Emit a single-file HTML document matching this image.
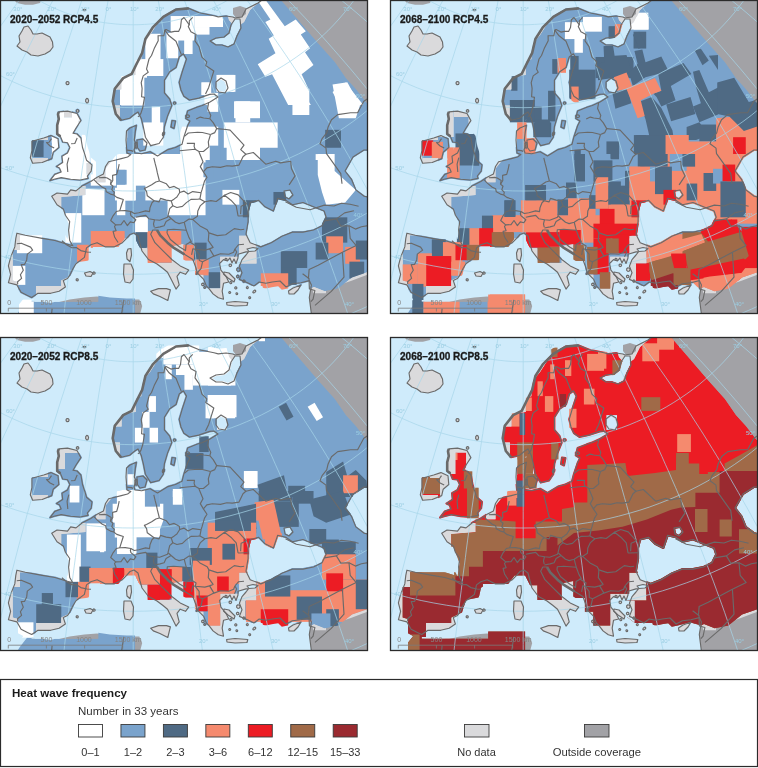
<!DOCTYPE html>
<html><head><meta charset="utf-8"><title>Heat wave frequency</title>
<style>html,body{margin:0;padding:0;background:#fff;} svg{display:block}</style></head>
<body>
<svg width="758" height="768" viewBox="0 0 758 768">
<defs>
<clipPath id="clip"><rect x="0" y="0" width="368" height="314"/></clipPath>
<clipPath id="cov"><path d="M61.2,197.1 L61.2,209.8 L63.3,209.8 L69.7,226.6 L67.5,239.3 L65.4,235.3 L64.1,235.3 L64.4,238.2 L56.4,235.7 L55.7,235.6 L54.1,235.3 L20.0,235.3 L20.0,250.0 L12.7,250.0 L12.7,280.6 L18.0,282.0 L18.0,296.2 L18.0,296.3 L18.5,296.5 L18.9,296.8 L23.3,298.9 L18.0,305.7 L18.0,314.5 L135.1,314.5 L135.1,294.6 L126.7,294.6 L123.4,294.4 L98.2,294.4 L98.2,301.8 L31.7,301.8 L31.7,300.0 L36.0,300.0 L36.0,286.0 L61.2,286.0 L61.2,280.6 L72.0,275.4 L76.0,263.0 L88.4,260.4 L88.5,260.3 L88.7,259.9 L89.0,259.4 L89.1,259.0 L89.3,258.5 L91.0,250.8 L92.9,249.4 L92.9,246.9 L118.2,246.9 L124.5,238.4 L135.1,238.4 L140.0,248.3 L147.4,248.3 L147.4,263.1 L171.7,263.1 L171.7,246.2 L183.3,244.1 L183.3,259.5 L185.8,261.0 L194.9,261.0 L194.9,274.7 L203.3,274.7 L203.3,288.4 L220.2,288.4 L220.2,256.8 L239.2,256.8 L239.2,235.7 L247.9,235.7 L247.0,234.0 L249.1,221.7 L249.1,221.6 L249.1,221.5 L249.1,211.1 L251.0,203.3 L258.4,201.5 L264.3,207.5 L264.4,207.6 L264.5,207.6 L264.6,207.7 L273.0,211.9 L273.0,211.9 L273.1,212.0 L273.2,212.0 L273.3,212.0 L273.4,212.0 L273.5,212.0 L273.6,212.0 L273.7,211.9 L273.8,211.9 L273.9,211.9 L274.0,211.8 L274.1,211.7 L274.1,211.7 L274.2,211.6 L274.3,211.5 L274.3,211.4 L274.3,211.3 L278.4,199.5 L285.7,201.3 L291.8,205.5 L291.9,205.6 L292.0,205.6 L292.1,205.7 L292.2,205.7 L292.3,205.7 L292.4,205.7 L292.5,205.7 L292.6,205.7 L302.9,203.5 L313.1,207.7 L313.1,207.7 L323.3,211.8 L325.1,217.2 L321.3,225.1 L313.2,229.0 L302.9,231.1 L292.4,231.1 L292.3,231.1 L292.2,231.1 L292.1,231.1 L292.0,231.2 L281.5,235.4 L281.5,235.4 L281.4,235.4 L270.9,241.8 L260.8,245.8 L256.2,244.0 L256.5,263.5 L237.0,263.5 L237.0,280.0 L245.0,286.0 L262.4,286.0 L262.9,287.8 L264.8,288.2 L265.3,288.3 L265.8,288.3 L266.3,288.3 L266.8,288.2 L273.1,286.9 L278.2,286.3 L281.8,289.8 L287.8,288.4 L300.0,285.3 L305.6,286.9 L305.7,286.7 L306.0,286.6 L306.0,287.0 L311.0,288.5 L314.0,287.0 L324.7,291.2 L338.4,288.5 L352.0,277.5 L368.0,272.0 L368.0,196.2 L364.6,195.3 L356.6,189.3 L352.4,178.9 L352.4,178.8 L352.3,178.8 L352.3,178.7 L346.2,170.9 L353.7,157.7 L364.3,151.0 L368.0,151.0 L368.0,104.0 L366.0,102.0 L356.0,89.0 L346.0,78.0 L335.0,62.0 L318.0,43.0 L300.0,22.0 L281.0,0.0 L262.0,0.0 L258.0,3.0 L250.0,10.0 L244.0,22.0 L239.7,25.2 L240.0,27.8 L236.1,35.6 L236.1,35.6 L233.2,43.3 L227.9,45.9 L222.3,44.1 L222.2,44.0 L222.1,44.0 L222.0,44.0 L216.3,44.0 L212.0,41.1 L216.3,39.0 L224.1,38.0 L224.2,38.0 L224.3,38.0 L224.4,37.9 L224.5,37.9 L224.6,37.8 L224.6,37.8 L229.6,33.8 L229.7,33.7 L229.8,33.7 L229.8,33.6 L229.9,33.5 L229.9,33.4 L229.9,33.3 L230.0,33.2 L231.9,25.4 L232.7,24.2 L229.0,20.0 L226.6,11.0 L226.3,11.0 L225.9,11.0 L225.4,11.0 L218.6,11.8 L215.3,11.0 L215.0,10.9 L200.7,7.9 L191.7,4.2 L190.0,4.0 L170.5,6.9 L160.8,12.6 L160.4,12.8 L160.1,13.1 L159.8,13.4 L156.3,16.8 L156.3,25.3 L150.0,35.0 L141.8,44.7 L141.3,59.3 L135.7,60.5 L135.7,75.0 L121.6,76.2 L121.6,89.6 L112.7,89.6 L112.7,105.4 L119.9,105.4 L119.9,122.4 L127.2,122.4 L127.2,136.9 L126.0,146.6 L121.8,150.2 L122.0,153.3 L116.5,154.7 L105.5,168.6 L105.5,182.3 L96.0,182.3 L96.0,161.9 L95.9,161.8 L95.6,161.4 L95.2,161.1 L90.9,157.4 L89.7,153.2 L89.6,153.0 L87.4,146.3 L85.8,137.2 L85.7,136.7 L85.6,136.2 L85.4,135.7 L85.1,135.3 L84.8,134.9 L84.5,134.5 L80.6,130.5 L80.4,130.4 L80.4,130.3 L85.1,123.4 L85.3,122.9 L85.5,122.5 L85.7,122.0 L85.8,121.5 L85.9,121.1 L85.9,120.6 L85.9,120.1 L85.8,119.6 L85.7,119.1 L85.5,118.6 L85.3,118.2 L83.0,114.0 L83.4,113.1 L83.6,112.7 L83.7,112.2 L83.8,111.7 L83.9,111.2 L83.9,110.6 L83.8,110.1 L83.7,109.6 L83.6,109.1 L83.4,108.7 L82.9,107.7 L82.6,107.3 L82.4,106.9 L82.1,106.5 L81.7,106.2 L81.4,105.9 L81.0,105.6 L80.6,105.4 L80.2,105.2 L79.7,105.1 L79.4,105.0 L75.4,105.0 L75.1,105.1 L74.7,105.4 L74.2,105.7 L73.3,106.4 L72.9,106.7 L72.6,107.0 L72.5,107.2 L68.7,106.3 L68.2,106.1 L67.6,106.1 L67.0,106.1 L58.3,106.9 L57.9,107.0 L57.4,107.1 L57.0,107.3 L56.5,107.4 L56.1,107.7 L55.7,108.0 L55.4,108.3 L55.0,108.6 L54.7,109.0 L54.5,109.4 L54.3,109.8 L54.1,110.3 L53.3,112.6 L53.1,113.0 L53.0,113.5 L53.0,114.0 L53.0,114.5 L53.1,115.0 L53.7,118.8 L52.4,124.1 L52.3,124.5 L52.2,124.9 L52.2,125.3 L52.2,130.8 L52.1,130.7 L51.6,130.7 L51.2,130.6 L50.7,130.6 L50.2,130.6 L49.8,130.7 L49.3,130.9 L48.0,131.3 L48.0,140.1 L31.7,140.1 L31.7,158.0 L48.0,158.0 L48.0,165.5 L52.2,163.8 L52.1,164.0 L51.9,164.4 L51.7,164.9 L51.5,165.3 L51.4,165.8 L51.4,166.3 L51.4,166.8 L51.5,167.2 L51.5,167.7 L51.7,168.2 L51.9,168.6 L52.1,169.0 L52.4,169.4 L52.7,169.8 L52.7,169.9 L52.6,169.9 L52.2,170.1 L51.8,170.4 L51.5,170.7 L51.1,171.0 L50.8,171.4 L48.0,175.1 L48.0,185.3 L48.4,185.4 L48.8,185.6 L49.3,185.7 L49.8,185.7 L50.3,185.7 L50.8,185.6 L51.3,185.5 L51.8,185.4 L55.4,184.0 L61.3,182.7 L69.9,184.1 L70.3,184.2 L75.7,184.6 L74.6,185.6 L71.6,185.0 L71.1,184.9 L70.6,184.9 L70.1,184.9 L69.6,185.0 L69.1,185.1 L68.7,185.3 L68.2,185.6 L67.8,185.8 L67.6,186.0 L85.5,186.0 L85.5,195.0Z M136.5,120.0 L136.6,120.3 L136.3,120.3 L135.9,120.3 L135.4,120.4 L134.9,120.5 L134.5,120.7 L136.2,119.3Z M160.6,148.3 L157.4,150.2 L156.1,149.4 L160.3,148.4Z M163.3,146.3 L167.5,140.0 L167.7,139.6 L167.9,139.1 L168.1,138.7 L168.2,138.2 L168.3,137.7 L168.3,137.2 L168.6,136.8 L168.9,136.4 L169.1,135.9 L169.2,135.4 L169.3,134.9 L169.4,134.4 L169.5,132.8 L169.5,132.3 L169.5,131.8 L171.8,133.0 L172.2,133.2 L172.7,133.3 L173.1,133.4 L173.6,133.5 L174.1,133.5 L174.6,133.5 L175.1,133.4 L175.5,133.3 L176.0,133.1 L176.4,132.9 L176.8,132.6 L177.2,132.3 L177.6,132.0 L177.9,131.6 L178.2,131.3 L178.4,130.8 L178.6,130.4 L178.8,129.9 L178.9,129.5 L180.4,122.0 L180.5,121.5 L180.5,121.0 L180.5,120.6 L180.4,120.1 L180.3,119.6 L180.1,119.2 L180.0,118.7 L179.7,118.3 L179.4,117.9 L179.1,117.6 L178.8,117.2 L178.4,116.9 L178.0,116.7 L177.6,116.5 L177.1,116.3 L176.7,116.1 L176.2,116.1 L173.1,115.6 L175.7,109.1 L176.7,108.8 L177.2,108.6 L177.6,108.4 L178.0,108.2 L178.4,107.9 L178.8,107.6 L179.1,107.2 L179.4,106.8 L179.7,106.4 L180.2,105.5 L180.4,105.1 L180.6,104.6 L180.7,104.1 L180.8,103.6 L180.8,103.1 L180.8,102.6 L180.7,102.1 L180.6,101.6 L180.4,101.1 L180.2,100.7 L179.7,99.8 L179.4,99.4 L179.1,99.0 L178.8,98.6 L178.4,98.3 L178.0,98.0 L177.6,97.8 L177.2,97.6 L176.7,97.4 L175.7,97.1 L175.2,97.0 L174.7,96.9 L174.2,96.9 L174.1,96.9 L174.1,96.8 L173.8,96.4 L173.5,96.0 L169.4,91.1 L169.4,81.6 L173.4,75.3 L176.7,73.1 L174.4,80.9 L174.3,81.4 L174.2,81.9 L174.2,82.4 L174.2,82.9 L174.3,83.4 L176.1,91.1 L176.3,91.6 L176.5,92.1 L179.4,98.3 L179.6,98.8 L179.9,99.2 L180.3,99.6 L180.6,100.0 L181.1,100.3 L186.6,104.1 L187.0,104.4 L187.4,104.6 L187.9,104.8 L188.4,104.9 L188.9,105.0 L189.2,105.0 L185.7,106.4 L185.3,106.6 L184.9,106.8 L184.5,107.1 L184.2,107.4 L183.8,107.7 L183.5,108.1 L183.3,108.5 L183.1,108.9 L182.9,109.3 L182.8,109.8 L182.1,112.2 L181.9,112.5 L181.6,112.9 L181.4,113.3 L181.2,113.7 L181.0,114.2 L180.9,114.6 L180.8,115.1 L180.8,115.6 L180.8,116.8 L180.8,117.3 L180.8,117.3 L180.8,117.6 L180.7,118.1 L180.7,118.6 L180.8,119.1 L180.8,119.6 L181.0,120.1 L181.2,120.5 L181.4,121.0 L181.7,121.4 L182.0,121.7 L182.3,122.1 L182.7,122.4 L183.1,122.7 L183.5,122.9 L183.1,123.6 L182.9,124.2 L179.2,135.3 L179.1,135.7 L177.7,140.8 L173.6,142.8 L166.6,144.8 L166.2,144.9 L165.8,145.1 L165.4,145.3 L162.7,147.0 L163.0,146.6Z M56.4,160.2 L56.6,159.7 L57.1,157.4 L57.4,160.0 L56.2,160.7 L56.3,160.6Z M63.6,148.9 L63.7,148.5 L63.8,148.0 L63.8,147.5 L63.8,147.2 L64.2,147.3 L64.4,147.6 L63.6,149.5 L63.3,149.7 L63.4,149.4Z M285.9,196.3 L285.2,191.8 L289.5,191.1 L291.7,194.8 L288.8,197.8Z M219.6,91.1 L217.0,87.7 L217.0,82.5 L221.1,79.2 L225.1,81.7 L226.9,87.9 L224.5,91.9Z M83.0,106.2 L83.3,106.6 L83.7,106.9 L84.1,107.2 L84.5,107.5 L85.0,107.7 L85.4,107.8 L85.9,107.9 L86.4,108.0 L86.9,108.0 L87.4,108.0 L87.9,107.9 L88.4,107.7 L89.6,107.3 L90.0,107.2 L90.4,107.0 L90.8,106.7 L91.2,106.4 L91.6,106.1 L91.9,105.8 L92.2,105.4 L92.4,105.0 L81.9,105.0Z"/></clipPath>
<clipPath id="cov0"><path d="M61.2,197.1 L61.2,208.7 L62.5,209.5 L62.5,209.8 L63.3,209.8 L66.8,219.1 L68.7,221.7 L68.5,223.3 L69.7,226.6 L68.2,235.5 L68.7,240.6 L68.7,240.7 L68.7,240.8 L68.8,240.9 L68.8,241.0 L70.7,244.2 L65.7,242.7 L55.2,239.5 L55.1,239.5 L42.4,237.4 L30.8,235.3 L20.0,235.3 L20.0,250.0 L12.7,250.0 L12.7,280.6 L18.0,282.0 L18.0,288.9 L20.2,292.8 L20.3,292.9 L20.3,293.0 L20.4,293.0 L20.5,293.1 L20.6,293.1 L20.7,293.2 L27.0,296.3 L27.0,296.3 L31.3,298.4 L31.3,298.4 L31.4,298.5 L31.5,298.5 L31.6,298.5 L31.7,298.5 L31.8,298.5 L31.9,298.5 L32.0,298.5 L32.1,298.4 L32.2,298.4 L32.3,298.3 L36.0,295.8 L36.0,286.0 L61.2,286.0 L61.2,280.6 L70.4,276.2 L70.5,276.0 L70.6,275.9 L70.6,275.8 L73.7,269.5 L74.2,268.7 L76.0,263.0 L79.7,262.2 L85.0,258.2 L85.1,258.1 L85.2,258.1 L85.2,258.0 L85.3,257.9 L85.3,257.8 L85.3,257.7 L85.4,257.6 L87.4,248.5 L91.3,245.7 L97.0,243.8 L103.3,246.9 L116.2,246.9 L119.4,245.3 L124.5,238.4 L127.9,238.4 L130.6,235.3 L133.8,234.1 L137.1,236.6 L139.0,244.2 L139.0,244.3 L140.2,248.3 L147.4,248.3 L147.4,259.7 L147.7,260.1 L147.8,260.2 L147.9,260.3 L147.9,260.3 L148.0,260.4 L153.2,263.1 L171.7,263.1 L171.7,258.0 L164.0,250.4 L155.7,242.1 L151.8,234.2 L153.4,231.0 L156.4,231.0 L159.3,235.8 L159.4,235.9 L159.5,236.0 L166.8,243.4 L166.9,243.5 L171.7,247.4 L171.7,246.2 L183.3,244.1 L183.3,254.8 L183.9,255.2 L192.1,260.2 L192.4,261.0 L194.9,261.0 L194.9,267.9 L195.0,268.3 L196.0,272.1 L195.5,272.7 L195.5,272.8 L195.4,272.8 L195.4,272.9 L195.3,273.0 L195.3,273.1 L195.1,274.1 L195.1,274.2 L195.1,274.3 L195.1,274.4 L195.1,274.5 L195.1,274.6 L195.2,274.7 L195.2,274.7 L203.3,274.7 L203.3,281.1 L203.8,282.4 L203.3,282.3 L203.3,288.4 L206.4,288.4 L206.6,287.9 L206.6,287.9 L206.7,287.8 L206.7,287.7 L207.4,288.4 L220.2,288.4 L220.2,256.8 L239.0,256.8 L239.0,255.0 L239.2,255.0 L239.2,235.7 L247.9,235.7 L247.0,234.0 L249.1,221.7 L249.1,221.6 L249.1,221.5 L249.1,211.1 L251.0,203.3 L258.4,201.5 L264.3,207.5 L264.4,207.6 L264.5,207.6 L264.6,207.7 L273.0,211.9 L273.0,211.9 L273.1,212.0 L273.2,212.0 L273.3,212.0 L273.4,212.0 L273.5,212.0 L273.6,212.0 L273.7,211.9 L273.8,211.9 L273.9,211.9 L274.0,211.8 L274.1,211.7 L274.1,211.7 L274.2,211.6 L274.3,211.5 L274.3,211.4 L274.3,211.3 L278.4,199.5 L285.7,201.3 L291.8,205.5 L291.9,205.6 L292.0,205.6 L292.1,205.7 L292.2,205.7 L292.3,205.7 L292.4,205.7 L292.5,205.7 L292.6,205.7 L302.9,203.5 L313.1,207.7 L313.1,207.7 L323.3,211.8 L325.1,217.2 L321.3,225.1 L313.2,229.0 L302.9,231.1 L292.4,231.1 L292.3,231.1 L292.2,231.1 L292.1,231.1 L292.0,231.2 L281.5,235.4 L281.5,235.4 L281.4,235.4 L270.9,241.8 L260.8,245.8 L256.2,244.0 L256.5,263.5 L239.4,263.5 L238.5,265.8 L238.4,265.9 L238.4,266.0 L238.4,266.1 L238.4,266.2 L238.4,266.3 L238.4,266.4 L238.4,266.5 L238.5,266.6 L238.6,267.0 L238.2,266.8 L238.1,266.8 L238.0,266.8 L237.9,266.8 L237.8,266.8 L237.7,266.8 L237.6,266.8 L237.5,266.9 L237.4,266.9 L237.3,267.0 L237.3,267.0 L237.0,267.2 L237.0,272.0 L237.3,272.2 L237.3,272.2 L237.4,272.3 L237.5,272.3 L237.6,272.4 L237.7,272.4 L237.8,272.4 L237.9,272.4 L238.0,272.4 L238.1,272.4 L238.2,272.4 L239.7,272.0 L239.7,271.9 L239.8,271.9 L239.9,271.9 L240.0,271.8 L240.1,271.7 L240.1,271.7 L240.2,271.6 L240.2,271.5 L240.3,271.4 L240.3,271.3 L240.9,272.8 L239.8,275.8 L239.4,275.1 L239.3,275.0 L239.3,274.9 L239.2,274.8 L239.2,274.8 L239.1,274.7 L239.0,274.6 L238.9,274.6 L238.9,274.6 L238.8,274.5 L237.7,274.2 L237.6,274.2 L237.5,274.2 L237.4,274.2 L237.3,274.2 L237.2,274.2 L237.1,274.3 L237.0,274.3 L237.0,278.7 L237.1,278.7 L237.2,278.8 L237.3,278.8 L237.4,278.8 L237.5,278.8 L237.6,278.8 L237.7,278.8 L238.7,278.5 L238.5,279.0 L238.4,279.1 L238.4,279.2 L238.4,279.3 L238.4,279.4 L238.4,279.5 L238.4,279.6 L238.4,279.7 L238.5,279.8 L238.5,279.9 L238.6,280.0 L238.6,280.0 L238.7,280.1 L238.8,280.2 L238.8,280.2 L238.9,280.3 L239.0,280.3 L241.9,281.5 L241.9,281.6 L241.9,281.7 L241.9,281.8 L241.9,281.9 L242.0,282.0 L242.0,282.1 L242.1,282.1 L242.1,282.2 L242.2,282.3 L242.2,282.4 L243.0,283.1 L243.1,283.1 L243.2,283.2 L243.3,283.2 L243.4,283.3 L243.5,283.3 L243.6,283.3 L243.7,283.3 L243.8,283.3 L243.9,283.3 L244.0,283.3 L245.0,283.0 L245.1,282.9 L245.1,282.9 L248.2,284.2 L251.7,286.0 L255.6,286.0 L259.4,283.1 L265.6,284.3 L265.7,284.3 L265.8,284.3 L265.9,284.3 L266.0,284.3 L272.5,283.0 L279.6,282.1 L285.4,287.7 L285.5,287.8 L285.5,287.8 L285.6,287.9 L285.7,287.9 L285.8,288.0 L285.9,288.0 L286.0,288.0 L286.1,288.0 L286.2,288.0 L286.3,288.0 L286.4,288.0 L286.5,287.9 L286.6,287.9 L292.7,284.8 L301.0,283.8 L301.2,283.8 L308.8,281.8 L310.4,285.1 L309.8,288.2 L311.0,288.5 L314.0,287.0 L324.7,291.2 L338.4,288.5 L352.0,277.5 L368.0,272.0 L368.0,196.2 L364.6,195.3 L356.6,189.3 L352.4,178.9 L352.4,178.8 L352.3,178.8 L352.3,178.7 L346.2,170.9 L353.7,157.7 L364.3,151.0 L368.0,151.0 L368.0,104.0 L366.0,102.0 L356.0,89.0 L346.0,78.0 L335.0,62.0 L318.0,43.0 L300.0,22.0 L281.0,0.0 L262.0,0.0 L258.0,3.0 L250.0,10.0 L244.0,22.0 L239.7,25.2 L240.0,27.8 L236.1,35.6 L236.1,35.6 L233.2,43.3 L227.9,45.9 L222.3,44.1 L222.2,44.0 L222.1,44.0 L222.0,44.0 L216.3,44.0 L212.0,41.1 L216.3,39.0 L224.1,38.0 L224.2,38.0 L224.3,38.0 L224.4,37.9 L224.5,37.9 L224.6,37.8 L224.6,37.8 L229.6,33.8 L229.7,33.7 L229.8,33.7 L229.8,33.6 L229.9,33.5 L229.9,33.4 L229.9,33.3 L230.0,33.2 L231.9,25.4 L232.7,24.2 L229.0,20.0 L227.7,15.2 L226.1,15.0 L226.1,15.0 L226.0,15.0 L225.9,15.0 L218.3,15.9 L214.3,14.8 L214.2,14.8 L199.5,11.7 L189.1,7.5 L189.0,7.4 L188.9,7.4 L188.8,7.4 L188.7,7.4 L188.6,7.4 L175.9,8.5 L175.8,8.5 L175.7,8.5 L175.6,8.6 L175.5,8.6 L162.8,16.0 L162.7,16.1 L162.7,16.1 L162.6,16.2 L156.3,22.5 L156.3,25.3 L150.0,35.0 L143.5,42.7 L141.6,51.0 L141.3,59.3 L137.4,60.1 L136.0,62.8 L136.0,62.9 L135.7,63.5 L135.7,75.0 L125.5,75.9 L122.8,77.2 L122.7,77.3 L122.6,77.3 L122.5,77.4 L122.4,77.5 L121.6,78.5 L121.6,89.6 L113.6,89.6 L112.7,95.2 L112.7,105.4 L119.9,105.4 L119.9,120.4 L120.3,120.9 L120.4,121.0 L120.5,121.1 L120.6,121.1 L120.7,121.2 L120.7,121.2 L120.8,121.3 L120.9,121.3 L121.0,121.3 L121.1,121.3 L121.2,121.3 L121.3,121.3 L129.8,119.2 L129.9,119.1 L130.0,119.1 L130.1,119.0 L130.2,119.0 L135.4,114.8 L137.6,113.3 L140.3,118.6 L142.3,126.8 L144.4,137.4 L144.4,137.5 L144.5,137.6 L144.5,137.7 L144.6,137.7 L147.0,141.5 L143.7,138.3 L143.6,138.2 L143.6,138.2 L143.5,138.1 L143.4,138.1 L143.3,138.0 L143.2,138.0 L143.1,138.0 L143.0,138.0 L142.9,138.0 L142.8,138.0 L136.8,139.0 L136.7,139.0 L136.6,139.1 L136.6,139.1 L136.5,139.2 L136.4,139.2 L136.3,139.3 L136.2,139.4 L136.2,139.4 L136.1,139.5 L136.1,139.6 L136.0,139.7 L136.0,139.8 L136.0,139.9 L136.0,140.0 L136.0,141.5 L135.3,139.9 L136.3,131.8 L137.4,125.5 L137.4,125.4 L137.4,125.3 L137.4,125.2 L137.4,125.1 L137.4,125.0 L137.3,124.9 L137.3,124.8 L137.2,124.7 L137.2,124.7 L137.1,124.6 L137.0,124.5 L136.9,124.5 L136.9,124.4 L136.8,124.4 L136.7,124.3 L136.6,124.3 L136.5,124.3 L136.4,124.3 L136.3,124.3 L136.2,124.3 L136.1,124.3 L136.0,124.4 L129.6,127.1 L129.5,127.1 L129.4,127.2 L129.3,127.2 L127.2,129.1 L127.2,136.9 L126.0,146.6 L125.5,147.0 L126.0,153.1 L126.0,153.2 L126.0,153.3 L126.1,153.4 L126.1,153.5 L126.2,153.5 L126.2,153.6 L126.3,153.7 L126.4,153.8 L126.4,153.8 L126.5,153.9 L126.6,153.9 L128.8,154.8 L127.2,156.1 L114.8,159.2 L112.5,159.8 L105.5,168.6 L105.5,182.3 L96.0,182.3 L96.0,176.7 L90.3,180.5 L81.8,184.8 L81.8,184.9 L81.7,184.9 L80.4,186.0 L85.5,186.0 L85.5,195.0Z M139.3,151.7 L139.3,151.7 L139.4,151.8 L139.5,151.9 L139.6,151.9 L139.7,152.0 L139.8,152.0 L139.9,152.0 L140.0,152.0 L140.1,152.0 L140.2,152.0 L145.2,151.0 L145.3,151.0 L145.4,150.9 L145.5,150.9 L145.6,150.8 L145.6,150.8 L145.7,150.7 L145.8,150.6 L145.8,150.5 L145.9,150.5 L145.9,150.4 L146.0,150.3 L148.0,143.3 L148.0,143.2 L148.0,143.2 L149.9,146.1 L149.9,146.2 L150.0,146.3 L150.0,146.4 L150.1,146.4 L150.2,146.5 L150.3,146.5 L150.4,146.5 L150.5,146.6 L150.6,146.6 L150.7,146.6 L150.8,146.6 L150.8,146.6 L150.9,146.6 L159.3,144.5 L159.4,144.4 L159.5,144.4 L159.6,144.4 L159.7,144.3 L159.7,144.3 L159.8,144.2 L159.9,144.1 L159.9,144.1 L164.1,137.8 L164.2,137.7 L164.2,137.6 L164.3,137.5 L164.3,137.4 L164.3,137.3 L164.4,135.9 L165.2,134.6 L165.3,134.6 L165.3,134.5 L165.4,134.4 L165.4,134.3 L165.4,134.2 L165.5,132.6 L165.5,132.5 L165.5,132.4 L165.5,132.3 L165.4,132.2 L165.4,132.1 L165.4,132.0 L165.3,131.9 L165.2,131.8 L165.2,131.7 L164.9,131.5 L165.4,126.8 L168.4,116.4 L172.7,105.9 L172.8,105.8 L172.8,105.7 L172.8,105.6 L172.8,105.5 L172.8,105.4 L172.8,105.3 L172.7,105.2 L170.6,98.9 L170.6,98.8 L170.6,98.7 L170.5,98.6 L170.5,98.6 L165.4,92.5 L165.4,80.5 L170.4,72.5 L176.6,68.3 L176.6,68.3 L176.7,68.2 L176.8,68.1 L176.8,68.1 L176.9,68.0 L176.9,67.9 L177.0,67.8 L180.1,57.6 L183.1,55.3 L185.4,59.2 L181.4,71.5 L181.3,71.5 L178.2,82.0 L178.2,82.1 L178.2,82.2 L178.2,82.3 L178.2,82.4 L178.2,82.5 L180.0,90.2 L180.1,90.3 L180.1,90.4 L183.0,96.6 L183.0,96.7 L183.1,96.8 L183.2,96.9 L183.2,97.0 L183.3,97.0 L188.8,100.8 L188.9,100.9 L189.0,100.9 L189.1,101.0 L189.2,101.0 L189.3,101.0 L189.4,101.0 L189.5,101.0 L189.6,101.0 L198.9,99.1 L199.0,99.0 L209.9,95.4 L213.7,95.0 L216.2,96.9 L209.5,101.1 L201.9,104.6 L196.5,106.3 L196.4,106.4 L187.2,110.1 L187.1,110.1 L187.1,110.2 L187.0,110.2 L186.9,110.3 L186.8,110.3 L186.8,110.4 L186.7,110.5 L186.7,110.6 L186.7,110.7 L186.6,110.8 L185.7,114.5 L185.3,114.7 L185.2,114.8 L185.1,114.8 L185.1,114.9 L185.0,115.0 L185.0,115.1 L184.9,115.1 L184.9,115.2 L184.8,115.3 L184.8,115.4 L184.8,115.5 L184.8,115.6 L184.8,116.8 L184.8,116.9 L184.8,117.0 L184.8,117.1 L184.9,117.2 L184.9,117.3 L184.9,117.3 L184.7,118.2 L184.7,118.2 L184.7,118.3 L184.7,118.4 L184.7,118.5 L184.7,118.6 L184.8,118.7 L184.8,118.8 L184.8,118.9 L184.9,119.0 L185.0,119.1 L185.0,119.1 L185.1,119.2 L185.2,119.3 L188.7,121.4 L186.7,125.4 L186.7,125.5 L183.0,136.6 L182.9,136.7 L181.1,143.6 L175.0,146.6 L167.7,148.6 L167.6,148.7 L167.6,148.7 L167.5,148.7 L157.5,154.8 L150.6,150.8 L150.5,150.8 L150.4,150.8 L150.3,150.7 L150.2,150.7 L150.1,150.7 L150.0,150.7 L150.0,150.7 L149.9,150.7 L141.6,152.8 L135.7,152.1 L135.1,150.0 L135.3,149.2 L135.4,149.3 L135.5,149.4 L135.5,149.4 L135.6,149.5 L135.7,149.5 L135.8,149.6 L135.9,149.6 L136.0,149.6 L136.1,149.6 L136.2,149.6 L136.3,149.6 L136.4,149.6 L136.5,149.6 L136.6,149.5 L136.7,149.5 L136.8,149.4 L136.8,149.4 L136.9,149.3 L137.0,149.2 L137.0,149.2 L137.1,149.1 L137.1,149.0 L137.2,148.9 L137.2,148.9 L139.2,151.6Z M205.0,285.1 L205.2,285.6 L204.8,285.5Z M285.9,196.3 L285.2,191.8 L289.5,191.1 L291.7,194.8 L288.8,197.8Z M219.6,91.1 L217.0,87.7 L217.0,82.5 L221.1,79.2 L225.1,81.7 L226.9,87.9 L224.5,91.9Z M135.1,314.5 L135.1,298.6 L126.6,298.6 L109.9,297.6 L98.2,295.7 L98.2,301.8 L55.4,301.8 L50.6,302.9 L41.9,301.8 L31.7,301.8 L31.7,300.8 L27.4,300.8 L27.3,300.8 L27.2,300.8 L27.1,300.8 L27.0,300.9 L26.9,300.9 L26.8,301.0 L26.8,301.0 L26.7,301.1 L26.6,301.2 L20.2,309.4 L20.1,309.5 L18.0,313.1 L18.0,314.5Z M237.0,263.7 L237.1,263.5 L237.0,263.5Z M248.5,286.0 L248.4,285.9 L248.3,285.9 L248.2,285.9 L248.1,285.8 L247.3,285.6 L247.2,285.6 L247.2,285.6 L247.1,285.6 L247.0,285.6 L246.9,285.6 L246.8,285.7 L246.7,285.7 L246.6,285.7 L246.5,285.8 L246.4,285.8 L246.3,286.0 L248.5,286.0Z M301.7,285.8 L301.9,285.5 L301.9,285.4 L301.9,285.3 L302.0,285.2 L302.0,285.1 L302.0,285.0 L302.0,284.9 L302.0,284.8 L302.0,284.8 L301.9,284.7 L301.9,284.6 L301.9,284.5 L301.8,284.4 L301.7,284.3 L301.7,284.3 L301.6,284.2 L301.5,284.1 L301.4,284.1 L301.3,284.1 L301.2,284.0 L301.1,284.0 L301.0,284.0 L300.9,284.0 L300.8,284.0 L300.7,284.0 L300.6,284.1 L292.6,287.1 L292.5,287.1 L292.4,287.2 L292.3,287.3 L300.0,285.3Z M32.1,140.1 L31.7,140.2 L31.7,158.0 L48.0,158.0 L48.0,161.2 L52.1,159.5 L52.2,159.5 L52.2,159.4 L52.3,159.4 L52.4,159.3 L52.5,159.2 L52.5,159.2 L52.6,159.1 L52.6,159.0 L52.6,158.9 L52.7,158.8 L54.1,152.8 L59.4,148.3 L59.5,148.2 L59.6,148.1 L59.6,148.1 L59.7,148.0 L59.7,147.9 L59.8,147.8 L59.8,147.7 L59.8,147.6 L59.8,147.5 L59.8,147.4 L59.0,138.7 L59.0,138.6 L59.0,138.5 L58.9,138.4 L58.9,138.3 L58.8,138.3 L58.8,138.2 L58.7,138.1 L58.7,138.0 L58.6,138.0 L58.5,137.9 L58.4,137.9 L51.3,134.7 L51.2,134.7 L51.1,134.6 L51.0,134.6 L51.0,134.6 L50.9,134.6 L50.8,134.6 L50.7,134.6 L50.6,134.7 L48.0,135.5 L48.0,140.1Z M175.8,104.9 L175.8,104.8 L175.9,104.8 L176.0,104.7 L176.1,104.6 L176.1,104.6 L176.2,104.5 L176.7,103.6 L176.7,103.5 L176.8,103.4 L176.8,103.3 L176.8,103.2 L176.8,103.1 L176.8,103.0 L176.8,102.9 L176.8,102.8 L176.7,102.7 L176.7,102.6 L176.2,101.7 L176.1,101.6 L176.1,101.6 L176.0,101.5 L175.9,101.4 L175.8,101.4 L175.8,101.3 L175.7,101.3 L175.6,101.2 L174.6,100.9 L174.5,100.9 L174.4,100.9 L174.3,100.9 L174.2,100.9 L174.1,100.9 L174.0,100.9 L173.9,101.0 L173.8,101.0 L173.7,101.1 L173.6,101.1 L172.8,101.8 L172.8,101.9 L172.7,102.0 L172.7,102.1 L172.6,102.1 L172.6,102.2 L172.5,102.3 L172.5,102.4 L172.5,102.5 L172.5,102.6 L172.5,103.6 L172.5,103.7 L172.5,103.8 L172.5,103.9 L172.6,104.0 L172.6,104.1 L172.7,104.1 L172.7,104.2 L172.8,104.3 L172.8,104.4 L173.6,105.1 L173.7,105.1 L173.8,105.2 L173.9,105.2 L174.0,105.3 L174.1,105.3 L174.2,105.3 L174.3,105.3 L174.4,105.3 L174.5,105.3 L174.6,105.3 L175.6,105.0 L175.7,104.9Z M170.0,127.0 L170.0,127.1 L170.0,127.2 L170.1,127.3 L170.1,127.4 L170.1,127.5 L170.2,127.6 L170.2,127.7 L170.3,127.7 L170.4,127.8 L170.5,127.8 L170.6,127.9 L173.6,129.4 L173.6,129.4 L173.7,129.5 L173.8,129.5 L173.9,129.5 L174.0,129.5 L174.1,129.5 L174.2,129.5 L174.3,129.5 L174.4,129.4 L174.5,129.4 L174.6,129.3 L174.6,129.3 L174.7,129.2 L174.8,129.1 L174.8,129.1 L174.9,129.0 L174.9,128.9 L175.0,128.8 L175.0,128.7 L176.5,121.2 L176.5,121.1 L176.5,121.0 L176.5,120.9 L176.5,120.8 L176.5,120.7 L176.4,120.6 L176.4,120.5 L176.3,120.5 L176.3,120.4 L176.2,120.3 L176.2,120.2 L176.1,120.2 L176.0,120.1 L175.9,120.1 L175.8,120.1 L175.7,120.0 L175.6,120.0 L172.1,119.5 L172.0,119.5 L171.9,119.5 L171.8,119.5 L171.8,119.5 L171.7,119.6 L171.6,119.6 L171.5,119.6 L171.4,119.7 L171.3,119.8 L171.3,119.8 L171.2,119.9 L171.1,120.0 L171.1,120.1 L171.1,120.2 L171.0,120.3 L171.0,120.3 L170.0,126.8 L170.0,126.9Z M61.8,142.5 L61.9,142.5 L61.9,142.6 L62.0,142.7 L62.0,142.8 L62.1,142.8 L62.2,142.9 L62.3,142.9 L62.4,142.9 L62.5,143.0 L62.6,143.0 L66.8,143.6 L68.8,147.5 L66.7,152.3 L61.5,155.3 L61.4,155.4 L61.3,155.4 L61.3,155.5 L61.2,155.6 L61.2,155.7 L61.1,155.8 L61.1,155.8 L61.0,155.9 L61.0,156.0 L61.0,156.1 L61.0,156.2 L61.0,156.3 L61.6,162.0 L55.9,165.7 L55.8,165.7 L55.7,165.8 L55.6,165.8 L55.6,165.9 L55.5,166.0 L55.5,166.1 L55.5,166.2 L55.4,166.3 L55.4,166.4 L55.4,166.5 L55.4,166.6 L55.4,166.6 L55.4,166.7 L55.5,166.8 L55.5,166.9 L55.5,167.0 L55.6,167.1 L55.7,167.2 L55.7,167.2 L55.8,167.3 L55.9,167.3 L56.0,167.4 L58.8,168.8 L59.9,171.4 L54.4,173.5 L54.4,173.5 L54.3,173.5 L54.2,173.6 L54.1,173.7 L54.1,173.7 L54.0,173.8 L49.2,180.1 L49.1,180.2 L49.1,180.3 L49.1,180.4 L49.0,180.4 L49.0,180.5 L49.0,180.6 L49.0,180.7 L49.0,180.8 L49.0,180.9 L49.1,181.0 L49.1,181.1 L49.1,181.2 L49.2,181.3 L49.3,181.4 L49.3,181.4 L49.4,181.5 L49.5,181.6 L49.6,181.6 L49.7,181.6 L49.8,181.7 L49.9,181.7 L50.0,181.7 L50.1,181.7 L50.2,181.7 L50.3,181.7 L50.4,181.6 L54.3,180.2 L61.2,178.6 L70.5,180.2 L70.6,180.2 L80.1,181.0 L80.2,181.0 L80.3,181.0 L80.4,181.0 L88.3,179.4 L88.4,179.4 L88.5,179.3 L88.6,179.3 L88.7,179.2 L88.7,179.2 L88.8,179.1 L88.9,179.0 L88.9,178.9 L89.0,178.9 L89.0,178.8 L89.1,178.7 L89.1,178.6 L89.1,178.5 L89.1,178.4 L89.1,178.3 L89.1,178.2 L89.0,178.1 L88.4,176.2 L92.0,171.8 L92.0,171.8 L92.1,171.7 L92.1,171.6 L92.2,171.5 L92.2,171.4 L92.2,171.3 L93.0,165.0 L93.0,164.9 L93.0,164.8 L93.0,164.7 L93.0,164.6 L92.9,164.5 L92.9,164.4 L92.8,164.4 L92.8,164.3 L92.7,164.2 L92.6,164.1 L87.4,159.6 L85.9,154.3 L85.8,154.3 L83.5,147.3 L81.9,137.8 L81.9,137.7 L81.8,137.6 L81.8,137.5 L81.7,137.5 L81.7,137.4 L81.6,137.3 L77.7,133.3 L77.6,133.2 L77.6,133.2 L77.5,133.1 L77.4,133.1 L77.3,133.0 L77.2,133.0 L74.6,132.5 L77.0,128.2 L81.7,121.2 L81.8,121.1 L81.8,121.0 L81.9,120.9 L81.9,120.8 L81.9,120.7 L81.9,120.6 L81.9,120.5 L81.9,120.4 L81.9,120.3 L81.8,120.2 L81.8,120.1 L77.9,113.1 L78.7,112.9 L78.8,112.8 L78.8,112.8 L78.9,112.8 L79.0,112.7 L79.1,112.6 L79.1,112.6 L79.2,112.5 L79.2,112.4 L79.3,112.3 L79.8,111.3 L79.8,111.3 L79.9,111.2 L79.9,111.1 L79.9,111.0 L79.9,110.8 L79.9,110.7 L79.9,110.6 L79.8,110.5 L79.8,110.5 L79.3,109.5 L79.2,109.4 L79.2,109.3 L79.1,109.2 L79.1,109.2 L79.0,109.1 L78.9,109.0 L78.8,109.0 L78.8,109.0 L78.7,108.9 L77.6,108.6 L77.5,108.6 L77.4,108.6 L77.3,108.6 L77.2,108.6 L77.1,108.6 L77.0,108.7 L76.9,108.7 L76.8,108.8 L76.7,108.8 L75.8,109.5 L75.7,109.6 L75.6,109.6 L75.6,109.7 L75.5,109.8 L75.5,109.9 L75.4,110.0 L75.4,110.1 L75.4,110.2 L75.4,110.3 L75.4,111.5 L75.4,111.6 L75.4,111.7 L75.4,111.8 L75.5,111.9 L75.5,112.0 L75.6,112.1 L75.6,112.1 L67.7,110.1 L67.6,110.1 L67.5,110.1 L67.4,110.1 L58.7,110.9 L58.6,110.9 L58.5,110.9 L58.4,111.0 L58.3,111.0 L58.3,111.1 L58.2,111.1 L58.1,111.2 L58.0,111.2 L58.0,111.3 L57.9,111.4 L57.9,111.5 L57.9,111.6 L57.1,113.9 L57.0,114.0 L57.0,114.1 L57.0,114.2 L57.0,114.3 L57.0,114.4 L57.8,119.0 L56.2,125.1 L56.2,125.1 L56.2,125.2 L56.2,125.3 L56.2,134.0 L56.2,134.1 L56.2,134.2 L56.2,134.3 L56.3,134.4 L56.3,134.5 L56.4,134.6 L56.4,134.7 L56.5,134.7 L56.6,134.8 L59.6,137.0 L61.8,142.4Z"/></clipPath>
<clipPath id="landclip"><polygon points="8.4,282.8 10.6,274.3 8.4,265.9 10.6,257.4 14.8,246.9 15.8,238.4 16.9,233.2 25.3,235.3 42.2,238.4 54.9,240.5 65.4,243.7 72.8,245.8 69.7,240.5 68.6,230 69.7,221.5 65.4,215.2 63.3,208.9 57,204.7 51.7,196.2 57,193 67.5,194.1 70.7,189.9 76,190.9 82.3,185.7 90.8,181.4 97.1,177.2 103.4,174.1 105.5,166.5 108.6,161.7 115,160.2 121.3,158.6 127.6,157 130.8,154.6 127,153 126,140 126.5,131 130,128 136.4,125.3 135.3,131.7 134.3,140.1 136,144 134,150 135,153 141.7,153.8 150.1,151.7 157.5,156 168,149.6 175.4,147.5 182,144.3 183.9,136.9 187.6,125.8 190,121 185.7,118.4 187.6,111 196.8,107.3 202.3,105.5 210,102 218,97 214,94 209.7,94.4 198.7,98.1 189.4,100 183.9,96.2 181,90 179.2,82.3 182.3,71.8 186.5,59.1 183.4,53.8 179.2,57 176,67.5 169.7,71.8 164.4,80.2 164.4,92.9 169.7,99.2 171.8,105.5 167.5,116.1 164.4,126.6 163.3,137.2 159.1,143.5 150.7,145.6 145.4,137.2 143.3,126.6 141.2,118.2 138,111.9 134.8,114 129.6,118.2 121.1,120.3 115.8,114 112.7,101.3 114.8,88.7 123.2,78.1 131.7,73.9 136.9,63.3 142.2,52.8 145.4,39 152.8,27.4 163.3,16.9 176,9.5 188.7,8.4 199.2,12.7 214,15.8 218.2,16.9 226,16 233,17 235,18 238,17.5 242,17 246,9 252,6 258,3 262,0 270,-5 375,-5 375,320 311.4,320 311.4,314 309.3,297.5 311.4,284.9 309.3,280.6 300.9,282.8 292.4,283.8 286.1,287 280,281 272.3,282 265.8,283.3 259.2,282 253.9,286 248.6,283.3 239.4,279.4 242,272.8 239.4,266.2 242,259.6 246,255 248.6,251.7 246,251.9 238,254.3 238,258 236,263.5 234,259 232,263 230,258 227.5,260.9 223.5,259.6 219.6,263.5 220.9,270.1 226.2,276.7 228.8,282 223.5,283.3 222.2,291.2 223.5,299.2 218.3,297.8 213,293.9 209,288.6 206.4,286 203.7,279.4 197.2,272.8 196,268 192.9,259.5 184.4,254.3 173.9,247.9 167.5,242.7 160.2,235.3 157,230 152.8,230 150.7,234.2 154.9,242.7 163.3,251.1 171.8,259.5 180.2,265.9 188.7,270.1 185.5,274.3 180.2,272.2 177,276.4 179.2,284.9 176,289.1 171.8,280.6 167.5,272.2 163,268.5 157,264 148.5,259.5 142,251 140,244 138,236 134,233 130,234.5 126.6,238.4 122.4,242.7 114,246.9 105.5,246.9 97.1,242.7 90.8,244.8 86.5,247.9 84.4,257.4 76,263.8 72.8,269 69.7,275.4 67.5,278.5 63.3,280.6 65.4,287 59.1,291.2 50.7,293.3 38,293.3 31.7,297.5 27.4,295.4 21.1,292.3 16.9,284.9"/><polygon points="58.8,111.9 67.5,111.1 77,113.5 80.9,120.6 76.2,127.7 73,133.2 77,134 80.9,138 82.5,147.5 84.9,154.6 86.5,160.2 92,164.9 91.2,171.2 87.3,176 88.1,178.4 80.2,180 70.7,179.2 61.2,177.6 54,179.2 50,180.7 54.8,174.4 61.2,172 59.6,168.1 56.4,166.5 62.7,162.5 62,156.2 67.5,153 69.9,147.5 67.5,142.7 62.7,142 60.4,136.4 57.2,134 57.2,125.3 58.8,119 58,114.2"/><polygon points="31.9,141.2 43.7,138 50.9,135.6 58,138.8 58.8,147.5 53.2,152.2 51.7,158.6 42.2,162.5 32.7,163.3 30.3,157.8 31.9,150.7"/><polygon points="17,46 20,42 19,36 22,31 24,27 28,26 31,30 33,34 37,34 42,33 46,35 50,37 52.5,42 53,47 50,51 45,54 38,56 31,55 27,52 22,50"/><polygon points="128,249 131,248.5 131.5,255 130,261.7 127,259 126.5,253"/><polygon points="124,264 131,264 133.5,270 133,279 130,283 125,282 123.5,274"/><polygon points="150.6,291.2 158.5,288.6 166.5,288.6 170.4,289.9 169.1,295.2 167.8,300.5 159.9,296.5 153.3,293.9"/><polygon points="226.6,302.5 235,301.5 247.8,302.5 247,305.5 235,306 227,305"/><polygon points="288.5,291 293,288 301,285 298,290 294,294 289,294"/><polygon points="84.5,273 90,271.5 93,273 91,276.5 86,276"/><polygon points="137,140 143,139 147,143 145,150 140,151 137,147"/><polygon points="134.8,143 137,142.5 137.5,147 135,147.5"/><polygon points="172,120.5 175.5,121 174,128.5 171,127"/><polygon points="224,272 229,273 235,279 234,282 228,278 223.5,274"/><polygon points="240.1,269.6 239.4,271 237.9,271.4 236.7,270.4 236.7,268.8 237.9,267.8 239.4,268.2"/><polygon points="239,276.5 238.5,277.5 237.4,277.8 236.5,277.1 236.5,275.9 237.4,275.2 238.5,275.5"/><polygon points="245.2,281.1 244.7,282 243.7,282.3 242.9,281.6 242.9,280.6 243.7,279.9 244.7,280.2"/><polygon points="255.6,290.2 255.7,291.3 254.8,292.5 253.5,293 252.8,292.3 253.3,291.1 254.5,290.1"/><polygon points="236.9,287.9 236.5,288.8 235.6,289 234.8,288.4 234.8,287.4 235.6,286.8 236.5,287"/><polygon points="231.9,282.6 231.5,283.5 230.6,283.7 229.8,283.1 229.8,282.1 230.6,281.5 231.5,281.7"/><polygon points="248.3,287.6 247.9,288.4 247.1,288.6 246.4,288 246.4,287.2 247.1,286.6 247.9,286.8"/><polygon points="250.7,297.7 250.3,298.5 249.5,298.7 248.8,298.1 248.8,297.3 249.5,296.7 250.3,296.9"/><polygon points="231.6,265.3 231.1,266.3 230,266.6 229.1,265.9 229.1,264.7 230,264 231.1,264.3"/><polygon points="227.1,259.4 226.7,260.3 225.8,260.5 225,259.9 225,258.9 225.8,258.3 226.7,258.5"/><polygon points="197.8,272.2 197.9,273 197.4,274 196.6,274.6 196.1,274.3 196.3,273.3 197,272.4"/><polygon points="204.2,284.4 203.7,285.4 202.6,285.7 201.7,285 201.7,283.8 202.6,283.1 203.7,283.4"/><polygon points="205.7,287.5 205.3,288.3 204.5,288.5 203.8,287.9 203.8,287.1 204.5,286.5 205.3,286.7"/><polygon points="237.7,293.7 237.4,294.4 236.6,294.6 236,294.1 236,293.3 236.6,292.8 237.4,293"/><polygon points="230.7,292.5 230.3,293.3 229.5,293.5 228.8,292.9 228.8,292.1 229.5,291.5 230.3,291.7"/><polygon points="95.2,273.1 94.7,274 93.7,274.3 92.9,273.6 92.9,272.6 93.7,271.9 94.7,272.2"/><polygon points="78.3,279.8 77.9,280.7 77,280.9 76.2,280.3 76.2,279.3 77,278.7 77.9,278.9"/><polygon points="69.1,83.1 68.5,84.4 67.1,84.7 66.1,83.8 66.1,82.4 67.1,81.5 68.5,81.8"/><polygon points="88.6,100.7 88,102.6 86.8,103 85.7,101.7 85.7,99.7 86.8,98.4 88,98.8"/><polygon points="78.9,110.9 78.4,111.9 77.3,112.2 76.4,111.5 76.4,110.3 77.3,109.6 78.4,109.9"/><polygon points="171.4,127 171.4,127.1 171.3,127.1 171.2,127 171.2,127 171.3,126.9 171.4,126.9"/><polygon points="164.4,134.1 163.5,135.5 162.6,135.6 162.3,134.4 162.8,132.7 163.8,131.9 164.5,132.5"/><polygon points="189.6,116.2 188.8,117.3 187.2,117.6 185.8,116.8 185.8,115.6 187.2,114.8 188.8,115.1"/><polygon points="175.8,103.1 175.3,104 174.3,104.3 173.5,103.6 173.5,102.6 174.3,101.9 175.3,102.2"/><polygon points="85.8,10 85.2,10.6 84,10.7 82.9,10.3 82.9,9.7 84,9.3 85.2,9.4"/><polygon points="136.2,148.5 136.2,148.6 136.1,148.6 136,148.5 136,148.5 136.1,148.4 136.2,148.4"/></clipPath>
<g id="base">

<polygon points="8.4,282.8 10.6,274.3 8.4,265.9 10.6,257.4 14.8,246.9 15.8,238.4 16.9,233.2 25.3,235.3 42.2,238.4 54.9,240.5 65.4,243.7 72.8,245.8 69.7,240.5 68.6,230 69.7,221.5 65.4,215.2 63.3,208.9 57,204.7 51.7,196.2 57,193 67.5,194.1 70.7,189.9 76,190.9 82.3,185.7 90.8,181.4 97.1,177.2 103.4,174.1 105.5,166.5 108.6,161.7 115,160.2 121.3,158.6 127.6,157 130.8,154.6 127,153 126,140 126.5,131 130,128 136.4,125.3 135.3,131.7 134.3,140.1 136,144 134,150 135,153 141.7,153.8 150.1,151.7 157.5,156 168,149.6 175.4,147.5 182,144.3 183.9,136.9 187.6,125.8 190,121 185.7,118.4 187.6,111 196.8,107.3 202.3,105.5 210,102 218,97 214,94 209.7,94.4 198.7,98.1 189.4,100 183.9,96.2 181,90 179.2,82.3 182.3,71.8 186.5,59.1 183.4,53.8 179.2,57 176,67.5 169.7,71.8 164.4,80.2 164.4,92.9 169.7,99.2 171.8,105.5 167.5,116.1 164.4,126.6 163.3,137.2 159.1,143.5 150.7,145.6 145.4,137.2 143.3,126.6 141.2,118.2 138,111.9 134.8,114 129.6,118.2 121.1,120.3 115.8,114 112.7,101.3 114.8,88.7 123.2,78.1 131.7,73.9 136.9,63.3 142.2,52.8 145.4,39 152.8,27.4 163.3,16.9 176,9.5 188.7,8.4 199.2,12.7 214,15.8 218.2,16.9 226,16 233,17 235,18 238,17.5 242,17 246,9 252,6 258,3 262,0 270,-5 375,-5 375,320 311.4,320 311.4,314 309.3,297.5 311.4,284.9 309.3,280.6 300.9,282.8 292.4,283.8 286.1,287 280,281 272.3,282 265.8,283.3 259.2,282 253.9,286 248.6,283.3 239.4,279.4 242,272.8 239.4,266.2 242,259.6 246,255 248.6,251.7 246,251.9 238,254.3 238,258 236,263.5 234,259 232,263 230,258 227.5,260.9 223.5,259.6 219.6,263.5 220.9,270.1 226.2,276.7 228.8,282 223.5,283.3 222.2,291.2 223.5,299.2 218.3,297.8 213,293.9 209,288.6 206.4,286 203.7,279.4 197.2,272.8 196,268 192.9,259.5 184.4,254.3 173.9,247.9 167.5,242.7 160.2,235.3 157,230 152.8,230 150.7,234.2 154.9,242.7 163.3,251.1 171.8,259.5 180.2,265.9 188.7,270.1 185.5,274.3 180.2,272.2 177,276.4 179.2,284.9 176,289.1 171.8,280.6 167.5,272.2 163,268.5 157,264 148.5,259.5 142,251 140,244 138,236 134,233 130,234.5 126.6,238.4 122.4,242.7 114,246.9 105.5,246.9 97.1,242.7 90.8,244.8 86.5,247.9 84.4,257.4 76,263.8 72.8,269 69.7,275.4 67.5,278.5 63.3,280.6 65.4,287 59.1,291.2 50.7,293.3 38,293.3 31.7,297.5 27.4,295.4 21.1,292.3 16.9,284.9" fill="#dadadc"/>
<polygon points="58.8,111.9 67.5,111.1 77,113.5 80.9,120.6 76.2,127.7 73,133.2 77,134 80.9,138 82.5,147.5 84.9,154.6 86.5,160.2 92,164.9 91.2,171.2 87.3,176 88.1,178.4 80.2,180 70.7,179.2 61.2,177.6 54,179.2 50,180.7 54.8,174.4 61.2,172 59.6,168.1 56.4,166.5 62.7,162.5 62,156.2 67.5,153 69.9,147.5 67.5,142.7 62.7,142 60.4,136.4 57.2,134 57.2,125.3 58.8,119 58,114.2" fill="#dadadc"/>
<polygon points="31.9,141.2 43.7,138 50.9,135.6 58,138.8 58.8,147.5 53.2,152.2 51.7,158.6 42.2,162.5 32.7,163.3 30.3,157.8 31.9,150.7" fill="#dadadc"/>
<polygon points="17,46 20,42 19,36 22,31 24,27 28,26 31,30 33,34 37,34 42,33 46,35 50,37 52.5,42 53,47 50,51 45,54 38,56 31,55 27,52 22,50" fill="#dadadc"/>
<polygon points="128,249 131,248.5 131.5,255 130,261.7 127,259 126.5,253" fill="#dadadc"/>
<polygon points="124,264 131,264 133.5,270 133,279 130,283 125,282 123.5,274" fill="#dadadc"/>
<polygon points="150.6,291.2 158.5,288.6 166.5,288.6 170.4,289.9 169.1,295.2 167.8,300.5 159.9,296.5 153.3,293.9" fill="#dadadc"/>
<polygon points="226.6,302.5 235,301.5 247.8,302.5 247,305.5 235,306 227,305" fill="#dadadc"/>
<polygon points="288.5,291 293,288 301,285 298,290 294,294 289,294" fill="#dadadc"/>
<polygon points="84.5,273 90,271.5 93,273 91,276.5 86,276" fill="#dadadc"/>
<polygon points="137,140 143,139 147,143 145,150 140,151 137,147" fill="#dadadc"/>
<polygon points="134.8,143 137,142.5 137.5,147 135,147.5" fill="#dadadc"/>
<polygon points="172,120.5 175.5,121 174,128.5 171,127" fill="#dadadc"/>
<polygon points="224,272 229,273 235,279 234,282 228,278 223.5,274" fill="#dadadc"/>
<polygon points="240.1,269.6 239.4,271 237.9,271.4 236.7,270.4 236.7,268.8 237.9,267.8 239.4,268.2" fill="#dadadc"/>
<polygon points="239,276.5 238.5,277.5 237.4,277.8 236.5,277.1 236.5,275.9 237.4,275.2 238.5,275.5" fill="#dadadc"/>
<polygon points="245.2,281.1 244.7,282 243.7,282.3 242.9,281.6 242.9,280.6 243.7,279.9 244.7,280.2" fill="#dadadc"/>
<polygon points="255.6,290.2 255.7,291.3 254.8,292.5 253.5,293 252.8,292.3 253.3,291.1 254.5,290.1" fill="#dadadc"/>
<polygon points="236.9,287.9 236.5,288.8 235.6,289 234.8,288.4 234.8,287.4 235.6,286.8 236.5,287" fill="#dadadc"/>
<polygon points="231.9,282.6 231.5,283.5 230.6,283.7 229.8,283.1 229.8,282.1 230.6,281.5 231.5,281.7" fill="#dadadc"/>
<polygon points="248.3,287.6 247.9,288.4 247.1,288.6 246.4,288 246.4,287.2 247.1,286.6 247.9,286.8" fill="#dadadc"/>
<polygon points="250.7,297.7 250.3,298.5 249.5,298.7 248.8,298.1 248.8,297.3 249.5,296.7 250.3,296.9" fill="#dadadc"/>
<polygon points="231.6,265.3 231.1,266.3 230,266.6 229.1,265.9 229.1,264.7 230,264 231.1,264.3" fill="#dadadc"/>
<polygon points="227.1,259.4 226.7,260.3 225.8,260.5 225,259.9 225,258.9 225.8,258.3 226.7,258.5" fill="#dadadc"/>
<polygon points="197.8,272.2 197.9,273 197.4,274 196.6,274.6 196.1,274.3 196.3,273.3 197,272.4" fill="#dadadc"/>
<polygon points="204.2,284.4 203.7,285.4 202.6,285.7 201.7,285 201.7,283.8 202.6,283.1 203.7,283.4" fill="#dadadc"/>
<polygon points="205.7,287.5 205.3,288.3 204.5,288.5 203.8,287.9 203.8,287.1 204.5,286.5 205.3,286.7" fill="#dadadc"/>
<polygon points="237.7,293.7 237.4,294.4 236.6,294.6 236,294.1 236,293.3 236.6,292.8 237.4,293" fill="#dadadc"/>
<polygon points="230.7,292.5 230.3,293.3 229.5,293.5 228.8,292.9 228.8,292.1 229.5,291.5 230.3,291.7" fill="#dadadc"/>
<polygon points="95.2,273.1 94.7,274 93.7,274.3 92.9,273.6 92.9,272.6 93.7,271.9 94.7,272.2" fill="#dadadc"/>
<polygon points="78.3,279.8 77.9,280.7 77,280.9 76.2,280.3 76.2,279.3 77,278.7 77.9,278.9" fill="#dadadc"/>
<polygon points="69.1,83.1 68.5,84.4 67.1,84.7 66.1,83.8 66.1,82.4 67.1,81.5 68.5,81.8" fill="#dadadc"/>
<polygon points="88.6,100.7 88,102.6 86.8,103 85.7,101.7 85.7,99.7 86.8,98.4 88,98.8" fill="#dadadc"/>
<polygon points="78.9,110.9 78.4,111.9 77.3,112.2 76.4,111.5 76.4,110.3 77.3,109.6 78.4,109.9" fill="#dadadc"/>
<polygon points="171.4,127 171.4,127.1 171.3,127.1 171.2,127 171.2,127 171.3,126.9 171.4,126.9" fill="#dadadc"/>
<polygon points="164.4,134.1 163.5,135.5 162.6,135.6 162.3,134.4 162.8,132.7 163.8,131.9 164.5,132.5" fill="#dadadc"/>
<polygon points="189.6,116.2 188.8,117.3 187.2,117.6 185.8,116.8 185.8,115.6 187.2,114.8 188.8,115.1" fill="#dadadc"/>
<polygon points="175.8,103.1 175.3,104 174.3,104.3 173.5,103.6 173.5,102.6 174.3,101.9 175.3,102.2" fill="#dadadc"/>
<polygon points="85.8,10 85.2,10.6 84,10.7 82.9,10.3 82.9,9.7 84,9.3 85.2,9.4" fill="#dadadc"/>
<polygon points="136.2,148.5 136.2,148.6 136.1,148.6 136,148.5 136,148.5 136.1,148.4 136.2,148.4" fill="#dadadc"/>
<polygon points="15,320 21,310 27.4,301.8 33.8,301.8 50.7,303.9 69.7,299.6 84.4,297.5 97.1,296.5 109.8,298.6 126.6,299.6 139.3,299.6 142.2,306 140.1,314 140,320" fill="#a2a2a6"/>
<polygon points="12,-2 42,-2 40,3 33,4.7 25,4.7 17,3" fill="#a2a2a6"/>
<polygon points="233,8 240,6 246,8 246,14 242,17 236,18 233,14" fill="#a2a2a6"/>
<polygon points="237,27 245,25 248,30 246,36 238,36" fill="#a2a2a6"/>
<polygon points="279.5,-2 375,-2 375,106 367,104 365,102 355,89 345,78 334,62 317,43 299,22 280,0" fill="#a2a2a6"/>
<polygon points="309.3,280.6 311.4,284.9 309.3,297.5 311.4,314 311.4,320 375,320 375,272 351.5,280.7 339,285 326,285 326,293.3 313.5,293.3" fill="#a2a2a6"/>
<polygon points="248.1,211 250.2,202.5 258.7,200.4 265,206.8 273.4,211 277.7,198.3 286.1,200.4 292.4,204.7 303,202.5 313.5,206.8 324.1,211 326.2,217.3 322,225.8 313.5,230 303,232.1 292.4,232.1 281.9,236.3 271.3,242.7 260.8,246.9 250.2,242.7 246,234.2 248.1,221.5" fill="#cfebfb"/>
<polygon points="284,191 290,190 293,195 289,199 285,197" fill="#cfebfb"/>
<polygon points="364,150 353,157 345,171 351.5,179.3 355.8,189.9 364.2,196.2 375,199 375,150" fill="#cfebfb"/>
<polygon points="210,41 216,38 224,37 229,33 231,25 235,19 240,19 241,28 237,36 234,44 228,47 222,45 216,45" fill="#cfebfb"/>
<polygon points="216,82 221,78 226,81 228,88 225,93 219,92 216,88" fill="#cfebfb"/>
<polygon points="247,249 253,247.5 258,248.5 255,251 249,251.5" fill="#cfebfb"/>
</g>
<g id="lines" fill="none" stroke="#6a6a6a" stroke-width="1.15" stroke-linejoin="round">
<polygon points="8.4,282.8 10.6,274.3 8.4,265.9 10.6,257.4 14.8,246.9 15.8,238.4 16.9,233.2 25.3,235.3 42.2,238.4 54.9,240.5 65.4,243.7 72.8,245.8 69.7,240.5 68.6,230 69.7,221.5 65.4,215.2 63.3,208.9 57,204.7 51.7,196.2 57,193 67.5,194.1 70.7,189.9 76,190.9 82.3,185.7 90.8,181.4 97.1,177.2 103.4,174.1 105.5,166.5 108.6,161.7 115,160.2 121.3,158.6 127.6,157 130.8,154.6 127,153 126,140 126.5,131 130,128 136.4,125.3 135.3,131.7 134.3,140.1 136,144 134,150 135,153 141.7,153.8 150.1,151.7 157.5,156 168,149.6 175.4,147.5 182,144.3 183.9,136.9 187.6,125.8 190,121 185.7,118.4 187.6,111 196.8,107.3 202.3,105.5 210,102 218,97 214,94 209.7,94.4 198.7,98.1 189.4,100 183.9,96.2 181,90 179.2,82.3 182.3,71.8 186.5,59.1 183.4,53.8 179.2,57 176,67.5 169.7,71.8 164.4,80.2 164.4,92.9 169.7,99.2 171.8,105.5 167.5,116.1 164.4,126.6 163.3,137.2 159.1,143.5 150.7,145.6 145.4,137.2 143.3,126.6 141.2,118.2 138,111.9 134.8,114 129.6,118.2 121.1,120.3 115.8,114 112.7,101.3 114.8,88.7 123.2,78.1 131.7,73.9 136.9,63.3 142.2,52.8 145.4,39 152.8,27.4 163.3,16.9 176,9.5 188.7,8.4 199.2,12.7 214,15.8 218.2,16.9 226,16 233,17 235,18 238,17.5 242,17 246,9 252,6 258,3 262,0 270,-5 375,-5 375,320 311.4,320 311.4,314 309.3,297.5 311.4,284.9 309.3,280.6 300.9,282.8 292.4,283.8 286.1,287 280,281 272.3,282 265.8,283.3 259.2,282 253.9,286 248.6,283.3 239.4,279.4 242,272.8 239.4,266.2 242,259.6 246,255 248.6,251.7 246,251.9 238,254.3 238,258 236,263.5 234,259 232,263 230,258 227.5,260.9 223.5,259.6 219.6,263.5 220.9,270.1 226.2,276.7 228.8,282 223.5,283.3 222.2,291.2 223.5,299.2 218.3,297.8 213,293.9 209,288.6 206.4,286 203.7,279.4 197.2,272.8 196,268 192.9,259.5 184.4,254.3 173.9,247.9 167.5,242.7 160.2,235.3 157,230 152.8,230 150.7,234.2 154.9,242.7 163.3,251.1 171.8,259.5 180.2,265.9 188.7,270.1 185.5,274.3 180.2,272.2 177,276.4 179.2,284.9 176,289.1 171.8,280.6 167.5,272.2 163,268.5 157,264 148.5,259.5 142,251 140,244 138,236 134,233 130,234.5 126.6,238.4 122.4,242.7 114,246.9 105.5,246.9 97.1,242.7 90.8,244.8 86.5,247.9 84.4,257.4 76,263.8 72.8,269 69.7,275.4 67.5,278.5 63.3,280.6 65.4,287 59.1,291.2 50.7,293.3 38,293.3 31.7,297.5 27.4,295.4 21.1,292.3 16.9,284.9"/>
<polygon points="58.8,111.9 67.5,111.1 77,113.5 80.9,120.6 76.2,127.7 73,133.2 77,134 80.9,138 82.5,147.5 84.9,154.6 86.5,160.2 92,164.9 91.2,171.2 87.3,176 88.1,178.4 80.2,180 70.7,179.2 61.2,177.6 54,179.2 50,180.7 54.8,174.4 61.2,172 59.6,168.1 56.4,166.5 62.7,162.5 62,156.2 67.5,153 69.9,147.5 67.5,142.7 62.7,142 60.4,136.4 57.2,134 57.2,125.3 58.8,119 58,114.2"/>
<polygon points="31.9,141.2 43.7,138 50.9,135.6 58,138.8 58.8,147.5 53.2,152.2 51.7,158.6 42.2,162.5 32.7,163.3 30.3,157.8 31.9,150.7"/>
<polygon points="17,46 20,42 19,36 22,31 24,27 28,26 31,30 33,34 37,34 42,33 46,35 50,37 52.5,42 53,47 50,51 45,54 38,56 31,55 27,52 22,50"/>
<polygon points="128,249 131,248.5 131.5,255 130,261.7 127,259 126.5,253"/>
<polygon points="124,264 131,264 133.5,270 133,279 130,283 125,282 123.5,274"/>
<polygon points="150.6,291.2 158.5,288.6 166.5,288.6 170.4,289.9 169.1,295.2 167.8,300.5 159.9,296.5 153.3,293.9"/>
<polygon points="226.6,302.5 235,301.5 247.8,302.5 247,305.5 235,306 227,305"/>
<polygon points="288.5,291 293,288 301,285 298,290 294,294 289,294"/>
<polygon points="84.5,273 90,271.5 93,273 91,276.5 86,276"/>
<polygon points="137,140 143,139 147,143 145,150 140,151 137,147"/>
<polygon points="134.8,143 137,142.5 137.5,147 135,147.5"/>
<polygon points="172,120.5 175.5,121 174,128.5 171,127"/>
<polygon points="224,272 229,273 235,279 234,282 228,278 223.5,274"/>
<polygon points="240.1,269.6 239.4,271 237.9,271.4 236.7,270.4 236.7,268.8 237.9,267.8 239.4,268.2"/>
<polygon points="239,276.5 238.5,277.5 237.4,277.8 236.5,277.1 236.5,275.9 237.4,275.2 238.5,275.5"/>
<polygon points="245.2,281.1 244.7,282 243.7,282.3 242.9,281.6 242.9,280.6 243.7,279.9 244.7,280.2"/>
<polygon points="255.6,290.2 255.7,291.3 254.8,292.5 253.5,293 252.8,292.3 253.3,291.1 254.5,290.1"/>
<polygon points="236.9,287.9 236.5,288.8 235.6,289 234.8,288.4 234.8,287.4 235.6,286.8 236.5,287"/>
<polygon points="231.9,282.6 231.5,283.5 230.6,283.7 229.8,283.1 229.8,282.1 230.6,281.5 231.5,281.7"/>
<polygon points="248.3,287.6 247.9,288.4 247.1,288.6 246.4,288 246.4,287.2 247.1,286.6 247.9,286.8"/>
<polygon points="250.7,297.7 250.3,298.5 249.5,298.7 248.8,298.1 248.8,297.3 249.5,296.7 250.3,296.9"/>
<polygon points="231.6,265.3 231.1,266.3 230,266.6 229.1,265.9 229.1,264.7 230,264 231.1,264.3"/>
<polygon points="227.1,259.4 226.7,260.3 225.8,260.5 225,259.9 225,258.9 225.8,258.3 226.7,258.5"/>
<polygon points="197.8,272.2 197.9,273 197.4,274 196.6,274.6 196.1,274.3 196.3,273.3 197,272.4"/>
<polygon points="204.2,284.4 203.7,285.4 202.6,285.7 201.7,285 201.7,283.8 202.6,283.1 203.7,283.4"/>
<polygon points="205.7,287.5 205.3,288.3 204.5,288.5 203.8,287.9 203.8,287.1 204.5,286.5 205.3,286.7"/>
<polygon points="237.7,293.7 237.4,294.4 236.6,294.6 236,294.1 236,293.3 236.6,292.8 237.4,293"/>
<polygon points="230.7,292.5 230.3,293.3 229.5,293.5 228.8,292.9 228.8,292.1 229.5,291.5 230.3,291.7"/>
<polygon points="95.2,273.1 94.7,274 93.7,274.3 92.9,273.6 92.9,272.6 93.7,271.9 94.7,272.2"/>
<polygon points="78.3,279.8 77.9,280.7 77,280.9 76.2,280.3 76.2,279.3 77,278.7 77.9,278.9"/>
<polygon points="69.1,83.1 68.5,84.4 67.1,84.7 66.1,83.8 66.1,82.4 67.1,81.5 68.5,81.8"/>
<polygon points="88.6,100.7 88,102.6 86.8,103 85.7,101.7 85.7,99.7 86.8,98.4 88,98.8"/>
<polygon points="78.9,110.9 78.4,111.9 77.3,112.2 76.4,111.5 76.4,110.3 77.3,109.6 78.4,109.9"/>
<polygon points="171.4,127 171.4,127.1 171.3,127.1 171.2,127 171.2,127 171.3,126.9 171.4,126.9"/>
<polygon points="164.4,134.1 163.5,135.5 162.6,135.6 162.3,134.4 162.8,132.7 163.8,131.9 164.5,132.5"/>
<polygon points="189.6,116.2 188.8,117.3 187.2,117.6 185.8,116.8 185.8,115.6 187.2,114.8 188.8,115.1"/>
<polygon points="175.8,103.1 175.3,104 174.3,104.3 173.5,103.6 173.5,102.6 174.3,101.9 175.3,102.2"/>
<polygon points="85.8,10 85.2,10.6 84,10.7 82.9,10.3 82.9,9.7 84,9.3 85.2,9.4"/>
<polygon points="136.2,148.5 136.2,148.6 136.1,148.6 136,148.5 136,148.5 136.1,148.4 136.2,148.4"/>
<polygon points="248.1,211 250.2,202.5 258.7,200.4 265,206.8 273.4,211 277.7,198.3 286.1,200.4 292.4,204.7 303,202.5 313.5,206.8 324.1,211 326.2,217.3 322,225.8 313.5,230 303,232.1 292.4,232.1 281.9,236.3 271.3,242.7 260.8,246.9 250.2,242.7 246,234.2 248.1,221.5"/>
<polygon points="284,191 290,190 293,195 289,199 285,197"/>
<polygon points="364,150 353,157 345,171 351.5,179.3 355.8,189.9 364.2,196.2 375,199 375,150"/>
<polygon points="210,41 216,38 224,37 229,33 231,25 235,19 240,19 241,28 237,36 234,44 228,47 222,45 216,45"/>
<polygon points="216,82 221,78 226,81 228,88 225,93 219,92 216,88"/>
<polygon points="247,249 253,247.5 258,248.5 255,251 249,251.5"/>
<polyline points="61.9,240.7 66.1,244.4 71.9,247.8 76.2,247.5 80.8,250.6 86.9,252 91,252.2"/>
<polyline points="16.8,243.8 21.3,243.2 30.6,247.1 32.6,250.1 27.3,254.1 26.7,259.9 24.5,264.5 21.2,264.6 23.3,270.2 20.4,274.7 21.6,278.4 17.6,281.7 17.7,284.3"/>
<polyline points="94.2,179.9 97.3,183.1 102.3,187.3 105.7,188.8 106.3,191.8 110.5,194.1 113.7,195 116.8,197.4 123.3,199.5 119.7,210.8 116.3,211.5 112.7,216.4 110.7,220.5 115.7,224.9 114.5,226.5 116.1,230.7 113.1,231.4 114.7,237.3 118.1,242.5"/>
<polyline points="98.9,177.8 104.7,177.4 107.2,178 111.2,180.4 110.5,184.1 113,186.3 111.8,189.6 114.3,192.3 113.7,195"/>
<polyline points="110.5,184.1 112.8,180.5 112.6,175.4 116.7,174.4 118.2,169 119.2,164.1"/>
<polyline points="126.9,150.1 131.3,150.6 133.2,151.4"/>
<polyline points="153.8,157.9 155.2,163.7 156.5,168.6 157.3,172.7 159.4,181"/>
<polyline points="159.4,181 155.8,182 151.7,184.8 146.5,187.5 144.4,188.4 146.6,191.6 147.3,195.8 154.1,200.8 152,202.7 150,207.8 149.5,211.6 145.6,210.9 138.8,212.7 134.3,213.5 130.9,211.5 125.3,210.6 119.7,210.8"/>
<polyline points="115.7,224.9 121,224.6 124,220.5 127.4,225.6 130.3,221.9 133.8,222.7 135.8,219.8 130.9,215.6 130.4,213.5 130.9,211.5"/>
<polyline points="135.8,217.3 140,216.4 145.7,215.4 148.7,218.7 154.5,219.7 159.7,220.2 167.5,217.2 168,215.7"/>
<polyline points="154.1,200.8 159.1,201.9 160.5,198.4 166.2,200.1 171.2,200.9 172.8,205.8 169.7,208.6 168,215.7"/>
<polyline points="159.4,181 166.4,183.8 169.4,187.7 174.1,186.4 179.3,189.2 179.7,192.5 176.9,197 174.3,198.9 171.2,200.9"/>
<polyline points="179.7,192.5 183.9,191.1 188.1,193.9 192.7,191.6 201.1,192.7"/>
<polyline points="172.8,205.8 176.9,207.5 182.4,206.4 186.4,202.6 191,199.4 197.7,199.2 199.9,198.9 201.1,192.7"/>
<polyline points="201.1,192.7 202.2,189.2 204.5,181.1 207,177.2 203.4,171.9 200.3,166.6 203,161.8 199.1,152.3 199,151.5 195.1,149.2 179.6,150.8"/>
<polyline points="195.1,149.2 194.1,146.4 194.5,143.2 186.8,143.4"/>
<polyline points="184.4,136.4 188.3,133 197.6,132.2 202.4,132.5 210.5,134.5"/>
<polyline points="199,151.5 203.4,151.5 208.9,146.9 208.3,141.9 210.5,134.5"/>
<polyline points="196.2,119 200.3,117.1 203.7,118 209.8,118.7"/>
<polyline points="209.8,118.7 213.2,122.6 216.7,128.6 214.8,132.6 210.5,134.5"/>
<polyline points="209.8,118.7 210.8,115.4 207.6,108.5 208.7,102.4"/>
<polyline points="205.5,93.9 208.7,87.4 210.8,80.7 213.8,71 205.7,65.6 206.8,61.8 201.9,57.2 199,46.7 195,40.9 196,34.6 190.9,31.7 188.3,26.4 189.3,24.8 189.3,20.9 192.7,17.3"/>
<polyline points="189.3,24.8 184,17.5 181.4,19.7 180.5,27.6 178.6,31.4 174.5,31.4 170.9,32.1 166.1,29.6 164.8,30.1 169.1,35.8 176,41.2 178.2,46.7 181.4,54.6"/>
<polyline points="164.8,30.1 163.8,35.8 158.1,35.7 158.2,40.7 154.2,48.6 151.5,55.5 149,59 146.5,69.1 148.2,72.3 143.2,75.9 141.2,82.6 142.1,88.4 141.6,96.7 144.5,97.4 142.8,107.5 140.9,113.4 139.2,115.9 137.9,116.8"/>
<polyline points="154.5,219.7 153.5,223.9 154.2,227.2"/>
<polyline points="154.3,228 160.1,226.9 164.1,225.8 166.1,221.5 171.1,218.5"/>
<polyline points="168,215.7 171.1,218.5 175.5,222.3 179.1,223.6 184.2,222.2 189.1,219.1 192.6,219.4 197.4,216.2 197.8,211.1 200.4,205.6 204.9,201.8"/>
<polyline points="199.9,198.9 204.9,201.8 210.9,200.6 216.2,201.5 224.5,195.2 230.9,200.2 236.2,205.8 238,215.7 238.7,216 247.7,215.8"/>
<polyline points="224.5,195.2 230.7,192.5 238.2,194.9 246.4,203.9 241.1,206.3 240.6,214.2"/>
<polyline points="192.6,219.4 200,225.9 207.2,229.8 208.9,232.9 217.3,235.6 225.7,234.8 234.3,228.6 240.7,229.7 244.2,229.3"/>
<polyline points="208.9,232.9 208.3,240.6 213.1,247.4 209.6,248.9 213.9,256.1 220.5,253.7 228.8,254.2 233.6,252.3 234.9,249 238.4,244.8 244,244.3"/>
<polyline points="234.9,249 236.7,252 234.5,256.8"/>
<polyline points="213.9,256.1 202.6,261.7 201,268.7 197.5,272.5"/>
<polyline points="191.6,254.9 192.8,248.8 195.3,249.3 199.1,254.3 199.3,260.5 202.6,261.7"/>
<polyline points="167,233.1 167.3,229.7 173.8,229.2 186.3,230.3 189,237.6 191.3,241.5 186.1,244.6 185.5,250.6 179.6,247 170.4,239.5 167,233.1"/>
<polyline points="184.2,222.2 186.3,230.3"/>
<polyline points="189.5,241.7 196.1,245.9 195.3,249.3 204.8,250.1 209.6,248.9"/>
<polyline points="203.4,171.9 206.8,167.9 212.3,166.7 220.4,167.4 226.9,165.8 232.3,166.1 239,165.1 243,156.8 245.9,154.2 240.7,149.6 244,145.1 230.1,130.1 226.1,129.5 216.7,128.6"/>
<polyline points="245.9,154.2 253.3,152.5 265.7,164.2 275.8,161.2 280.5,162.9 290.7,161.3 291.4,168.4 295.1,175.9 289.1,184.9"/>
<polyline points="342,183.7 340.8,173.7 326.5,153.6 326,148.1 320,143.7 322.1,138.6 326.7,132.9 328.1,127 331.5,119.8 337.7,114.6 350.6,112.7 357.6,112.7 363.8,101.2 378.5,91.7"/>
<polyline points="285.5,201.7 296.3,207.3 310,209.8 324.4,205.1 334,206 341.4,203.2 350.1,204.3 358.6,206.3"/>
<polyline points="324.3,220.9 336.4,218.9 344.6,212.9 353.9,210.8"/>
<polyline points="336.4,218.9 340.8,226.1 349,225.8 350.2,238.3 356.2,245.6 342.4,252.2 333,257.3 318.2,265.3 309.1,269.6 308.4,278.7"/>
<polyline points="342.4,252.2 344,277.1 331.3,291.4 315,305.4"/>
<polyline points="349,225.8 355.4,229.1 361.4,226.8 371.4,225.1"/>
<polyline points="51.5,138.6 49.1,142.3 46.5,142.5 50.1,146 54.2,147.9"/>
<polyline points="71.1,143.8 74.8,143.5 77.2,138"/>
<polyline points="68.8,157.7 67.1,164.2 67.8,172"/>
<polyline points="52.1,308.6 50.5,325.9"/>
<polyline points="123.8,299.9 121.4,315.5 115.5,331.9"/>
<polyline points="144.5,331.2 136.8,348.6"/>
<polyline points="302.6,273.7 309,278.5 309.4,289 314.9,290.5 313.1,299.1 310.9,301.6"/>
<polyline points="121.1,120.3 115.8,114 112.7,101.3 114.8,88.7 123.2,78.1 131.7,73.9 136.9,63.3 142.2,52.8 145.4,39 152.8,27.4 163.3,16.9 176,9.5 188.7,8.4" stroke-width="2.6"/>
<polyline points="58.8,111.9 58,114.2 58.8,119 57.2,125.3 57.2,134 60.4,136.4" stroke-width="2.6"/>
<polyline points="157,230 160.2,235.3 167.5,242.7 173.9,247.9 184.4,254.3" stroke-width="2.6"/>
</g>
<g id="grat" fill="none" stroke="#a6d5ea" stroke-width="0.7">
<polyline points="-227.7,277.7 -223.7,270.4 -219.6,263.2 -215.5,255.9 -211.4,248.7 -207.1,241.5 -202.9,234.3 -198.5,227.1 -194.1,219.9 -189.6,212.8 -185.1,205.7 -180.6,198.6 -175.9,191.5 -171.2,184.5 -166.5,177.5 -161.7,170.5 -156.9,163.5 -152,156.5 -147,149.6 -142,142.7 -137,135.9 -131.9,129 -126.8,122.2 -121.6,115.4 -116.3,108.6 -111,101.9 -105.7,95.2 -100.3,88.5 -94.9,81.9 -89.4,75.3 -83.9,68.7 -78.3,62.2 -72.7,55.7 -67.1,49.2 -61.4,42.8 -55.6,36.3 -49.9,30 -44.1,23.6 -38.2,17.3 -32.3,11.1 -26.4,4.8 -20.4,-1.3 -14.4,-7.5 -8.3,-13.6 -2.3,-19.7 3.9,-25.7 10,-31.7 16.2,-37.6 22.4,-43.5 28.7,-49.4 35,-55.2 41.3,-61 47.7,-66.7 54.1,-72.4 60.5,-78.1 67,-83.7 73.5,-89.2 80,-94.7 86.5,-100.2 93.1,-105.6 99.7,-110.9"/>
<polyline points="-163.6,320.5 -160.4,312.9 -157.2,305.3 -153.9,297.7 -150.5,290.2 -147.1,282.6 -143.7,275 -140.2,267.5 -136.6,259.9 -133,252.4 -129.4,244.8 -125.7,237.3 -121.9,229.8 -118.1,222.3 -114.3,214.8 -110.4,207.3 -106.5,199.9 -102.5,192.4 -98.5,185 -94.4,177.6 -90.3,170.2 -86.1,162.8 -81.9,155.4 -77.7,148.1 -73.4,140.7 -69.1,133.4 -64.7,126.1 -60.3,118.8 -55.9,111.6 -51.4,104.4 -46.9,97.1 -42.3,89.9 -37.7,82.8 -33.1,75.6 -28.4,68.5 -23.7,61.4 -18.9,54.3 -14.2,47.3 -9.3,40.3 -4.5,33.3 0.4,26.3 5.4,19.4 10.3,12.5 15.3,5.6 20.3,-1.2 25.4,-8.1 30.5,-14.8 35.6,-21.6 40.8,-28.3 46,-35 51.2,-41.6 56.5,-48.3 61.8,-54.8 67.1,-61.4 72.4,-67.9 77.8,-74.4 83.2,-80.8 88.7,-87.2 94.1,-93.6 99.6,-99.9 105.2,-106.2"/>
<polyline points="-94.1,354.1 -91.7,346.3 -89.3,338.4 -86.8,330.6 -84.3,322.7 -81.7,314.9 -79.1,307 -76.5,299.2 -73.8,291.3 -71,283.5 -68.3,275.6 -65.5,267.8 -62.7,259.9 -59.8,252.1 -56.9,244.2 -53.9,236.4 -51,228.6 -47.9,220.7 -44.9,212.9 -41.8,205.1 -38.7,197.3 -35.5,189.5 -32.3,181.7 -29.1,173.9 -25.8,166.1 -22.6,158.4 -19.2,150.6 -15.9,142.9 -12.5,135.1 -9.1,127.4 -5.6,119.7 -2.1,112 1.4,104.3 4.9,96.7 8.5,89 12.1,81.4 15.8,73.8 19.4,66.2 23.1,58.6 26.9,51 30.6,43.5 34.4,36 38.2,28.5 42,21 45.9,13.5 49.8,6.1 53.7,-1.3 57.7,-8.7 61.7,-16.1 65.7,-23.4 69.7,-30.7 73.8,-38 77.8,-45.3 82,-52.5 86.1,-59.7 90.2,-66.9 94.4,-74 98.6,-81.2 102.9,-88.2 107.1,-95.3 111.4,-102.3"/>
<polyline points="-20.6,378.2 -19,370.2 -17.3,362.2 -15.7,354.2 -14,346.1 -12.3,338.1 -10.5,330.1 -8.8,322 -7,314 -5.1,305.9 -3.3,297.8 -1.4,289.7 0.5,281.7 2.4,273.6 4.4,265.5 6.3,257.4 8.3,249.3 10.4,241.2 12.4,233.1 14.5,225 16.6,216.9 18.7,208.8 20.9,200.7 23,192.6 25.2,184.5 27.4,176.4 29.7,168.4 31.9,160.3 34.2,152.2 36.5,144.1 38.9,136.1 41.2,128 43.6,120 46,111.9 48.4,103.9 50.9,95.9 53.3,87.9 55.8,79.9 58.3,71.9 60.8,63.9 63.4,56 65.9,48 68.5,40.1 71.1,32.2 73.7,24.3 76.4,16.4 79,8.5 81.7,0.7 84.4,-7.1 87.2,-15 89.9,-22.8 92.7,-30.5 95.4,-38.3 98.2,-46 101,-53.7 103.9,-61.4 106.7,-69.1 109.6,-76.7 112.5,-84.3 115.4,-91.9 118.3,-99.5"/>
<polyline points="55.6,392.7 56.4,384.6 57.3,376.5 58.1,368.4 58.9,360.2 59.8,352.1 60.7,343.9 61.6,335.8 62.5,327.6 63.4,319.4 64.3,311.2 65.2,303 66.2,294.8 67.2,286.5 68.1,278.3 69.1,270.1 70.1,261.8 71.2,253.5 72.2,245.3 73.2,237 74.3,228.8 75.4,220.5 76.4,212.2 77.5,203.9 78.6,195.7 79.7,187.4 80.9,179.1 82,170.8 83.2,162.5 84.3,154.3 85.5,146 86.7,137.7 87.9,129.5 89.1,121.2 90.3,113 91.5,104.7 92.8,96.5 94,88.2 95.3,80 96.6,71.8 97.8,63.6 99.1,55.4 100.4,47.2 101.8,39 103.1,30.8 104.4,22.7 105.8,14.5 107.1,6.4 108.5,-1.7 109.9,-9.8 111.2,-17.9 112.6,-26 114.1,-34 115.5,-42.1 116.9,-50.1 118.3,-58.1 119.8,-66.1 121.2,-74 122.7,-82 124.2,-89.9 125.6,-97.8"/>
<polyline points="133.2,397.5 133.2,389.4 133.2,381.3 133.2,373.1 133.2,365 133.2,356.8 133.2,348.6 133.2,340.4 133.2,332.1 133.2,323.9 133.2,315.7 133.2,307.4 133.2,299.1 133.2,290.9 133.2,282.6 133.2,274.3 133.2,266 133.2,257.7 133.2,249.4 133.2,241 133.2,232.7 133.2,224.4 133.2,216.1 133.2,207.7 133.2,199.4 133.2,191 133.2,182.7 133.2,174.3 133.2,166 133.2,157.7 133.2,149.3 133.2,141 133.2,132.6 133.2,124.3 133.2,116 133.2,107.7 133.2,99.3 133.2,91 133.2,82.7 133.2,74.4 133.2,66.1 133.2,57.8 133.2,49.6 133.2,41.3 133.2,33 133.2,24.8 133.2,16.5 133.2,8.3 133.2,0.1 133.2,-8.1 133.2,-16.3 133.2,-24.4 133.2,-32.6 133.2,-40.7 133.2,-48.8 133.2,-56.9 133.2,-65 133.2,-73.1 133.2,-81.2 133.2,-89.2 133.2,-97.2"/>
<polyline points="210.7,392.7 209.9,384.6 209.1,376.5 208.3,368.4 207.4,360.2 206.6,352.1 205.7,343.9 204.8,335.8 203.9,327.6 203,319.4 202.1,311.2 201.1,303 200.2,294.8 199.2,286.5 198.2,278.3 197.2,270.1 196.2,261.8 195.2,253.5 194.2,245.3 193.1,237 192.1,228.8 191,220.5 189.9,212.2 188.9,203.9 187.8,195.7 186.6,187.4 185.5,179.1 184.4,170.8 183.2,162.5 182.1,154.3 180.9,146 179.7,137.7 178.5,129.5 177.3,121.2 176.1,113 174.8,104.7 173.6,96.5 172.4,88.2 171.1,80 169.8,71.8 168.5,63.6 167.2,55.4 165.9,47.2 164.6,39 163.3,30.8 162,22.7 160.6,14.5 159.3,6.4 157.9,-1.7 156.5,-9.8 155.1,-17.9 153.7,-26 152.3,-34 150.9,-42.1 149.5,-50.1 148.1,-58.1 146.6,-66.1 145.2,-74 143.7,-82 142.2,-89.9 140.7,-97.8"/>
<polyline points="287,378.2 285.3,370.2 283.7,362.2 282.1,354.2 280.4,346.1 278.7,338.1 276.9,330.1 275.1,322 273.3,314 271.5,305.9 269.7,297.8 267.8,289.7 265.9,281.7 264,273.6 262,265.5 260,257.4 258,249.3 256,241.2 254,233.1 251.9,225 249.8,216.9 247.7,208.8 245.5,200.7 243.3,192.6 241.1,184.5 238.9,176.4 236.7,168.4 234.4,160.3 232.1,152.2 229.8,144.1 227.5,136.1 225.2,128 222.8,120 220.4,111.9 218,103.9 215.5,95.9 213.1,87.9 210.6,79.9 208.1,71.9 205.6,63.9 203,56 200.4,48 197.9,40.1 195.3,32.2 192.6,24.3 190,16.4 187.3,8.5 184.6,0.7 181.9,-7.1 179.2,-15 176.5,-22.8 173.7,-30.5 170.9,-38.3 168.1,-46 165.3,-53.7 162.5,-61.4 159.6,-69.1 156.8,-76.7 153.9,-84.3 151,-91.9 148.1,-99.5"/>
<polyline points="360.5,354.1 358.1,346.3 355.7,338.4 353.2,330.6 350.6,322.7 348.1,314.9 345.5,307 342.8,299.2 340.1,291.3 337.4,283.5 334.7,275.6 331.9,267.8 329,259.9 326.2,252.1 323.3,244.2 320.3,236.4 317.3,228.6 314.3,220.7 311.3,212.9 308.2,205.1 305.1,197.3 301.9,189.5 298.7,181.7 295.5,173.9 292.2,166.1 288.9,158.4 285.6,150.6 282.2,142.9 278.9,135.1 275.4,127.4 272,119.7 268.5,112 265,104.3 261.4,96.7 257.9,89 254.3,81.4 250.6,73.8 246.9,66.2 243.2,58.6 239.5,51 235.8,43.5 232,36 228.2,28.5 224.3,21 220.5,13.5 216.6,6.1 212.6,-1.3 208.7,-8.7 204.7,-16.1 200.7,-23.4 196.7,-30.7 192.6,-38 188.5,-45.3 184.4,-52.5 180.3,-59.7 176.1,-66.9 171.9,-74 167.7,-81.2 163.5,-88.2 159.2,-95.3 155,-102.3"/>
<polyline points="430,320.5 426.8,312.9 423.6,305.3 420.3,297.7 416.9,290.2 413.5,282.6 410,275 406.5,267.5 403,259.9 399.4,252.4 395.7,244.8 392,237.3 388.3,229.8 384.5,222.3 380.7,214.8 376.8,207.3 372.8,199.9 368.9,192.4 364.8,185 360.8,177.6 356.7,170.2 352.5,162.8 348.3,155.4 344.1,148.1 339.8,140.7 335.5,133.4 331.1,126.1 326.7,118.8 322.3,111.6 317.8,104.4 313.3,97.1 308.7,89.9 304.1,82.8 299.5,75.6 294.8,68.5 290.1,61.4 285.3,54.3 280.5,47.3 275.7,40.3 270.8,33.3 266,26.3 261,19.4 256.1,12.5 251.1,5.6 246,-1.2 241,-8.1 235.9,-14.8 230.7,-21.6 225.6,-28.3 220.4,-35 215.1,-41.6 209.9,-48.3 204.6,-54.8 199.3,-61.4 193.9,-67.9 188.5,-74.4 183.1,-80.8 177.7,-87.2 172.2,-93.6 166.7,-99.9 161.2,-106.2"/>
<polyline points="494.1,277.7 490.1,270.4 486,263.2 481.9,255.9 477.7,248.7 473.5,241.5 469.2,234.3 464.9,227.1 460.5,219.9 456,212.8 451.5,205.7 446.9,198.6 442.3,191.5 437.6,184.5 432.9,177.5 428.1,170.5 423.3,163.5 418.4,156.5 413.4,149.6 408.4,142.7 403.4,135.9 398.3,129 393.1,122.2 387.9,115.4 382.7,108.6 377.4,101.9 372.1,95.2 366.7,88.5 361.3,81.9 355.8,75.3 350.3,68.7 344.7,62.2 339.1,55.7 333.4,49.2 327.8,42.8 322,36.3 316.3,30 310.4,23.6 304.6,17.3 298.7,11.1 292.8,4.8 286.8,-1.3 280.8,-7.5 274.7,-13.6 268.6,-19.7 262.5,-25.7 256.4,-31.7 250.2,-37.6 243.9,-43.5 237.7,-49.4 231.4,-55.2 225,-61 218.7,-66.7 212.3,-72.4 205.9,-78.1 199.4,-83.7 192.9,-89.2 186.4,-94.7 179.8,-100.2 173.3,-105.6 166.6,-110.9"/>
<polyline points="551.1,225.9 546.4,219.1 541.5,212.2 536.6,205.4 531.7,198.6 526.7,191.9 521.6,185.1 516.4,178.5 511.2,171.8 505.9,165.2 500.6,158.6 495.2,152.1 489.7,145.6 484.2,139.1 478.6,132.6 473,126.2 467.3,119.9 461.5,113.6 455.7,107.3 449.9,101 443.9,94.8 438,88.6 431.9,82.5 425.9,76.4 419.7,70.4 413.6,64.4 407.4,58.4 401.1,52.5 394.8,46.6 388.4,40.7 382,35 375.5,29.2 369,23.5 362.4,17.8 355.9,12.2 349.2,6.6 342.5,1.1 335.8,-4.4 329,-9.8 322.2,-15.2 315.4,-20.5 308.5,-25.8 301.6,-31.1 294.6,-36.2 287.6,-41.4 280.6,-46.5 273.5,-51.5 266.4,-56.5 259.3,-61.4 252.1,-66.3 244.9,-71.2 237.6,-75.9 230.4,-80.7 223.1,-85.3 215.7,-89.9 208.4,-94.5 201,-99 193.5,-103.4 186.1,-107.8 178.6,-112.2 171.1,-116.4"/>
<polyline points="599.6,165.6 594.1,159.3 588.5,152.9 582.9,146.7 577.2,140.4 571.4,134.3 565.5,128.1 559.6,122.1 553.6,116 547.6,110.1 541.5,104.1 535.3,98.3 529.1,92.4 522.8,86.7 516.4,80.9 510,75.3 503.5,69.6 497,64.1 490.4,58.5 483.8,53.1 477.1,47.7 470.4,42.3 463.6,37 456.7,31.7 449.8,26.5 442.8,21.4 435.8,16.3 428.8,11.2 421.7,6.3 414.6,1.3 407.4,-3.6 400.1,-8.4 392.8,-13.1 385.5,-17.9 378.2,-22.5 370.8,-27.1 363.3,-31.6 355.8,-36.1 348.3,-40.6 340.7,-44.9 333.1,-49.2 325.5,-53.5 317.8,-57.7 310.1,-61.8 302.4,-65.9 294.6,-69.9 286.8,-73.8 278.9,-77.7 271,-81.5 263.1,-85.3 255.2,-89 247.2,-92.7 239.3,-96.2 231.2,-99.8 223.2,-103.2 215.1,-106.6 207,-109.9 198.9,-113.2 190.8,-116.4 182.6,-119.5 174.4,-122.6"/>
<polyline points="637.8,97.4 631.6,91.6 625.3,86 619,80.4 612.6,74.8 606.1,69.4 599.5,64 592.9,58.6 586.3,53.4 579.5,48.2 572.7,43 565.9,37.9 559,32.9 552,28 544.9,23.1 537.9,18.3 530.7,13.6 523.5,8.9 516.3,4.3 509,-0.3 501.6,-4.8 494.2,-9.2 486.8,-13.6 479.3,-17.8 471.7,-22.1 464.1,-26.2 456.5,-30.3 448.8,-34.3 441.1,-38.3 433.3,-42.2 425.5,-46 417.6,-49.8 409.7,-53.5 401.8,-57.1 393.9,-60.6 385.8,-64.1 377.8,-67.6 369.7,-70.9 361.6,-74.2 353.5,-77.4 345.3,-80.6 337.1,-83.7 328.9,-86.7 320.6,-89.6 312.3,-92.5 304,-95.3 295.7,-98.1 287.3,-100.7 278.9,-103.3 270.5,-105.9 262,-108.3 253.6,-110.7 245.1,-113.1 236.6,-115.3 228,-117.5 219.5,-119.6 210.9,-121.7 202.3,-123.7 193.7,-125.6 185.1,-127.4 176.5,-129.2"/>
<polyline points="-260.3,191.9 -250.3,202.4 -239.9,212.7 -229.3,222.6 -218.4,232.2 -207.1,241.5 -195.6,250.4 -183.9,259 -171.9,267.2 -159.6,275.1 -147.1,282.6 -134.4,289.8 -121.5,296.6 -108.4,303 -95.2,309.1 -81.7,314.9 -68.1,320.3 -54.3,325.3 -40.4,329.9 -26.4,334.2 -12.3,338.1 2,341.6 16.3,344.8 30.7,347.6 45.2,350 59.8,352.1 74.4,353.8 89.1,355.1 103.8,356 118.5,356.6 133.2,356.8 147.9,356.6 162.6,356 177.3,355.1 192,353.8 206.6,352.1 221.1,350 235.6,347.6 250.1,344.8 264.4,341.6 278.7,338.1 292.8,334.2 306.8,329.9 320.7,325.3 334.5,320.3 348.1,314.9 361.5,309.1 374.8,303 387.9,296.6 400.8,289.8 413.5,282.6 426,275.1 438.2,267.2 450.3,259 462,250.4 473.5,241.5 484.7,232.2 495.7,222.6 506.3,212.7 516.6,202.4 526.7,191.9 536.3,181 545.6,169.8 554.6,158.2 563.2,146.4 571.4,134.3 579.2,121.9 586.6,109.1 593.5,96.2 600,82.9 606.1,69.4 611.7,55.6 616.8,41.6 621.4,27.3 625.5,12.8 629.1,-1.9"/>
<polyline points="-206.6,126.2 -198.2,135.7 -189.5,144.8 -180.5,153.6 -171.3,162.2 -161.7,170.5 -151.9,178.4 -141.9,186.1 -131.6,193.5 -121.1,200.6 -110.4,207.3 -99.5,213.8 -88.3,219.9 -77,225.7 -65.6,231.2 -53.9,236.4 -42.1,241.3 -30.2,245.8 -18.1,250 -6,253.9 6.3,257.4 18.7,260.6 31.2,263.5 43.8,266 56.4,268.2 69.1,270.1 81.9,271.6 94.7,272.8 107.5,273.6 120.3,274.1 133.2,274.3 146,274.1 158.9,273.6 171.7,272.8 184.5,271.6 197.2,270.1 209.9,268.2 222.6,266 235.2,263.5 247.6,260.6 260,257.4 272.3,253.9 284.5,250 296.6,245.8 308.5,241.3 320.3,236.4 331.9,231.2 343.4,225.7 354.7,219.9 365.8,213.8 376.8,207.3 387.5,200.6 398,193.5 408.3,186.1 418.3,178.4 428.1,170.5 437.6,162.2 446.9,153.6 455.9,144.8 464.6,135.7 473,126.2 481,116.6 488.8,106.6 496.2,96.4 503.3,86 510,75.3 516.4,64.3 522.3,53.1 527.9,41.7 533.1,30.1 537.9,18.3 542.2,6.3 546.1,-5.9 549.6,-18.3 552.6,-30.9 555.1,-43.6"/>
<polyline points="-147.2,64.4 -140.5,72.3 -133.5,80.1 -126.3,87.6 -118.8,94.9 -111,101.9 -103.1,108.7 -94.9,115.3 -86.5,121.6 -77.9,127.6 -69.1,133.4 -60.1,138.9 -51,144.2 -41.6,149.2 -32.2,153.9 -22.6,158.4 -12.8,162.5 -2.9,166.4 7.1,170.1 17.2,173.4 27.4,176.4 37.8,179.2 48.2,181.7 58.6,183.9 69.2,185.8 79.7,187.4 90.4,188.7 101,189.7 111.7,190.4 122.5,190.9 133.2,191 143.9,190.9 154.6,190.4 165.3,189.7 176,188.7 186.6,187.4 197.2,185.8 207.8,183.9 218.2,181.7 228.6,179.2 238.9,176.4 249.2,173.4 259.3,170.1 269.3,166.4 279.2,162.5 288.9,158.4 298.6,153.9 308,149.2 317.3,144.2 326.5,138.9 335.5,133.4 344.3,127.6 352.9,121.6 361.3,115.3 369.4,108.7 377.4,101.9 385.1,94.9 392.6,87.6 399.9,80.1 406.9,72.3 413.6,64.4 420,56.2 426.2,47.8 432,39.2 437.6,30.4 442.8,21.4 447.8,12.2 452.4,2.8 456.6,-6.7 460.6,-16.4 464.1,-26.2 467.3,-36.2 470.1,-46.3 472.6,-56.6 474.7,-67 476.3,-77.4"/>
<polyline points="-82.8,6.6 -77.8,12.9 -72.6,19 -67.1,25 -61.5,30.8 -55.6,36.3 -49.6,41.7 -43.4,47 -37,52 -30.4,56.8 -23.7,61.4 -16.8,65.8 -9.8,70 -2.6,74 4.7,77.8 12.1,81.4 19.7,84.7 27.3,87.9 35.1,90.8 42.9,93.4 50.9,95.9 58.9,98.1 66.9,100.1 75.1,101.9 83.3,103.4 91.5,104.7 99.8,105.8 108.1,106.6 116.5,107.2 124.8,107.5 133.2,107.7 141.6,107.5 149.9,107.2 158.2,106.6 166.6,105.8 174.8,104.7 183.1,103.4 191.3,101.9 199.4,100.1 207.5,98.1 215.5,95.9 223.5,93.4 231.3,90.8 239.1,87.9 246.7,84.7 254.3,81.4 261.7,77.8 269,74 276.2,70 283.2,65.8 290.1,61.4 296.8,56.8 303.4,52 309.8,47 316,41.7 322,36.3 327.9,30.8 333.5,25 339,19 344.2,12.9 349.2,6.6 354,0.2 358.6,-6.4 362.9,-13.2 366.9,-20.1 370.8,-27.1 374.3,-34.3 377.6,-41.6 380.6,-49 383.4,-56.5 385.8,-64.1 388,-71.9 389.9,-79.7 391.5,-87.6 392.8,-95.5 393.8,-103.5"/>
<polyline points="-14.2,-46.5 -10.9,-42.1 -7.4,-37.8 -3.8,-33.7 -0,-29.6 3.9,-25.7 7.9,-21.9 12.1,-18.2 16.4,-14.7 20.9,-11.3 25.4,-8.1 30.1,-4.9 34.9,-2 39.8,0.9 44.7,3.6 49.8,6.1 55,8.5 60.2,10.7 65.5,12.8 70.9,14.7 76.4,16.4 81.9,18 87.5,19.4 93.1,20.7 98.7,21.8 104.4,22.7 110.1,23.4 115.9,24 121.6,24.4 127.4,24.7 133.2,24.8 139,24.7 144.7,24.4 150.5,24 156.2,23.4 162,22.7 167.6,21.8 173.3,20.7 178.9,19.4 184.5,18 190,16.4 195.4,14.7 200.8,12.8 206.2,10.7 211.4,8.5 216.6,6.1 221.6,3.6 226.6,0.9 231.5,-2 236.3,-4.9 241,-8.1 245.5,-11.3 250,-14.7 254.3,-18.2 258.5,-21.9 262.5,-25.7 266.4,-29.6 270.2,-33.7 273.8,-37.8 277.3,-42.1 280.6,-46.5 283.7,-51 286.7,-55.6 289.5,-60.2 292.1,-65 294.6,-69.9 296.8,-74.8 298.9,-79.8 300.8,-84.9 302.5,-90.1 304,-95.3 305.3,-100.6 306.4,-105.9 307.3,-111.3 308,-116.7 308.5,-122.1"/>
<polyline points="58,-94.5 59.6,-92.2 61.4,-90 63.2,-87.8 65,-85.7 67,-83.7 69,-81.7 71.1,-79.7 73.3,-77.9 75.5,-76.1 77.8,-74.4 80.2,-72.7 82.6,-71.2 85.1,-69.7 87.7,-68.2 90.2,-66.9 92.9,-65.6 95.6,-64.5 98.3,-63.4 101.1,-62.3 103.9,-61.4 106.7,-60.6 109.6,-59.8 112.5,-59.1 115.4,-58.6 118.3,-58.1 121.3,-57.7 124.2,-57.4 127.2,-57.1 130.2,-57 133.2,-56.9 136.2,-57 139.2,-57.1 142.1,-57.4 145.1,-57.7 148.1,-58.1 151,-58.6 153.9,-59.1 156.8,-59.8 159.7,-60.6 162.5,-61.4 165.3,-62.3 168.1,-63.4 170.8,-64.5 173.5,-65.6 176.1,-66.9 178.7,-68.2 181.3,-69.7 183.7,-71.2 186.2,-72.7 188.5,-74.4 190.9,-76.1 193.1,-77.9 195.3,-79.7 197.4,-81.7 199.4,-83.7 201.4,-85.7 203.2,-87.8 205,-90 206.7,-92.2 208.4,-94.5 209.9,-96.8 211.3,-99.2 212.7,-101.6 214,-104.1 215.1,-106.6 216.2,-109.1 217.2,-111.7 218,-114.3 218.8,-117 219.5,-119.6 220.1,-122.3 220.5,-125 220.9,-127.7 221.1,-130.5 221.3,-133.2"/>
</g>
<g id="glabels" font-family="Liberation Sans, sans-serif" font-size="6" fill="#9acde2"><text x="13.3" y="10.9">30°</text><text x="47.3" y="10.9">20°</text><text x="80.5" y="10.9">10°</text><text x="105.6" y="10.9">0°</text><text x="129.9" y="10.9">10°</text><text x="155.3" y="10.9">20°</text><text x="212" y="10.5">40°</text><text x="289" y="10.5">60°</text><text x="343" y="10.5">70°</text><text x="5.9" y="76">60°</text><text x="5.3" y="169.8">50°</text><text x="4.2" y="258.5">40°</text><text x="353.6" y="217.3">40°</text><text x="345" y="306">40°</text><text x="271" y="306">30°</text><text x="199" y="306">20°</text><text x="356" y="98">50°</text></g>
<g id="scalebar"><g stroke="#7a7a7a" stroke-width="0.8" fill="none"><polyline points="8.3,311.5 8.3,308.2 122.7,308.2 122.7,311.5"/><line x1="46.4" y1="308.2" x2="46.4" y2="311.5"/><line x1="84.6" y1="308.2" x2="84.6" y2="311.5"/></g>
<g font-family="Liberation Sans, sans-serif" font-size="7" fill="#858585"><text x="7.2" y="304.8">0</text><text x="40.6" y="304.8">500</text><text x="76.2" y="304.8">1000</text><text x="114.8" y="304.8">1500 km</text></g></g>
</defs>
<rect x="0" y="0" width="758" height="768" fill="#fff"/>
<g transform="translate(0,0)">
<g clip-path="url(#clip)">
<rect x="0" y="0" width="368" height="314" fill="#cfebfb"/>
<use href="#base"/>
<g clip-path="url(#cov)">
<rect x="0" y="0" width="368" height="314" fill="#7aa3cc" clip-path="url(#cov0)"/>
<rect x="170.66" y="16.04" width="23.64" height="24.49" fill="#ffffff"/>
<rect x="194.3" y="16.04" width="28.71" height="10.98" fill="#ffffff"/>
<rect x="194.3" y="27.02" width="15.2" height="7.6" fill="#ffffff"/>
<rect x="166.44" y="32.93" width="11.82" height="25.33" fill="#ffffff"/>
<rect x="184.17" y="38.84" width="8.44" height="15.2" fill="#ffffff"/>
<rect x="145.33" y="33.77" width="15.2" height="42.22" fill="#ffffff"/>
<rect x="135.2" y="59.95" width="11.82" height="17.73" fill="#ffffff"/>
<rect x="120" y="75.99" width="22.8" height="29.04" fill="#ffffff"/>
<rect x="201.9" y="82.74" width="9.29" height="11.82" fill="#ffffff"/>
<rect x="221.32" y="75.15" width="13.51" height="16.04" fill="#ffffff"/>
<rect x="204.43" y="93.72" width="10.13" height="11.31" fill="#ffffff"/>
<polygon points="257.73,0.84 266.17,0.84 284.75,26.17 295.73,19.42 305.86,31.24 300.79,34.62 310.08,48.13 305.01,52.35 313.46,65.01 301.64,74.3 308.39,88.65 302.48,92.03 310.92,105.03 288.13,105.03 272.08,74.3 265.33,76.83 257.73,64.17 275.46,53.19 268.71,38.84 273.77,35.46 265.33,21.95 270.4,19.42" fill="#ffffff"/>
<polygon points="332.54,92.03 345.54,82.41 363.27,105.03 339.63,105.03" fill="#ffffff"/>
<polygon points="292.43,88.65 309.32,88.65 309.32,115.04 292.43,115.04" fill="#ffffff"/>
<polygon points="332.54,84.43 347.31,82.32 359.98,105.54 355.76,118.21 338.87,118.21" fill="#ffffff"/>
<rect x="235.44" y="101.32" width="14.78" height="21.11" fill="#ffffff"/>
<rect x="223.83" y="122.43" width="53.83" height="25.33" fill="#ffffff"/>
<rect x="216.44" y="74.93" width="19" height="16.89" fill="#ffffff"/>
<rect x="325.15" y="129.82" width="15.83" height="17.94" fill="#4f6a84"/>
<rect x="315.65" y="154.09" width="10.56" height="5.91" fill="#ffffff"/>
<rect x="180.21" y="126.65" width="38" height="33.35" fill="#ffffff"/>
<rect x="209.76" y="145.65" width="10.56" height="14.35" fill="#7aa3cc"/>
<rect x="226.65" y="126.65" width="33.35" height="33.35" fill="#ffffff"/>
<rect x="143.27" y="122.43" width="20.05" height="23.22" fill="#ffffff"/>
<rect x="151.72" y="106.6" width="8.44" height="28.49" fill="#ffffff"/>
<rect x="201.32" y="82.32" width="8.44" height="12.67" fill="#ffffff"/>
<rect x="207.65" y="92.88" width="10.56" height="18.99" fill="#ffffff"/>
<rect x="218.21" y="74.93" width="15.83" height="16.89" fill="#ffffff"/>
<rect x="234.04" y="101.32" width="25.96" height="16.89" fill="#ffffff"/>
<rect x="121.11" y="74.93" width="23.22" height="30.61" fill="#ffffff"/>
<rect x="134.83" y="59.1" width="28.49" height="16.89" fill="#ffffff"/>
<rect x="116.89" y="154" width="88.65" height="61.21" fill="#ffffff"/>
<rect x="115.83" y="169.83" width="9.5" height="14.78" fill="#7aa3cc"/>
<rect x="135.88" y="185.66" width="9.5" height="16.89" fill="#7aa3cc"/>
<rect x="125.33" y="200.44" width="42.22" height="16.88" fill="#7aa3cc"/>
<rect x="203.43" y="162.44" width="10.55" height="14.78" fill="#7aa3cc"/>
<rect x="210.82" y="154" width="9.5" height="7.39" fill="#7aa3cc"/>
<rect x="239.31" y="166.66" width="20.69" height="25.33" fill="#7aa3cc"/>
<rect x="222.43" y="189.88" width="16.88" height="14.78" fill="#ffffff"/>
<rect x="243.54" y="200.44" width="12.66" height="14.77" fill="#4f6a84"/>
<rect x="100" y="231.04" width="24.27" height="16.89" fill="#f58a6e"/>
<rect x="135.88" y="217.32" width="11.61" height="14.78" fill="#ffffff"/>
<rect x="135.88" y="232.1" width="11.61" height="14.78" fill="#4f6a84"/>
<rect x="147.49" y="231.04" width="33.78" height="31.67" fill="#f58a6e"/>
<rect x="182.32" y="244.77" width="11.61" height="15.83" fill="#f58a6e"/>
<rect x="193.93" y="242.65" width="12.67" height="16.89" fill="#4f6a84"/>
<rect x="194.99" y="259.54" width="13.72" height="15.83" fill="#f58a6e"/>
<rect x="208.71" y="272.21" width="13.72" height="15.83" fill="#4f6a84"/>
<rect x="50.66" y="154" width="42.22" height="27.44" fill="#ffffff" clip-path="url(#landclip)"/>
<rect x="90.77" y="154" width="25.32" height="31.66" fill="#ffffff"/>
<rect x="116.09" y="169.83" width="10.56" height="14.78" fill="#7aa3cc"/>
<rect x="82.32" y="188.83" width="22.17" height="26.38" fill="#ffffff"/>
<rect x="65.44" y="213.1" width="15.83" height="29.55" fill="#ffffff"/>
<rect x="115.04" y="187.77" width="20.05" height="12.67" fill="#ffffff"/>
<rect x="135.09" y="217.32" width="12.67" height="14.78" fill="#ffffff"/>
<rect x="90.77" y="231.04" width="33.77" height="16.89" fill="#f58a6e"/>
<rect x="77.04" y="244.77" width="11.61" height="16.88" fill="#f58a6e"/>
<rect x="136.15" y="233.16" width="10.55" height="14.77" fill="#4f6a84"/>
<rect x="147.76" y="232.1" width="12.24" height="31.66" fill="#f58a6e"/>
<rect x="16.89" y="234.21" width="25.33" height="19" fill="#ffffff"/>
<rect x="6.33" y="265.87" width="19" height="19" fill="#ffffff"/>
<rect x="19" y="299.65" width="14.77" height="14.35" fill="#ffffff"/>
<polygon points="317.76,154 334.65,154 334.65,170.89 355.76,189.88 345.2,202.55 326.21,204.66 321.98,191.99 317.76,175.11" fill="#ffffff"/>
<rect x="273.44" y="191.99" width="12.66" height="12.67" fill="#4f6a84"/>
<rect x="242.83" y="200.44" width="13.72" height="16.88" fill="#4f6a84"/>
<rect x="321.98" y="217.32" width="25.33" height="25.33" fill="#4f6a84"/>
<rect x="326.21" y="236.32" width="16.88" height="16.89" fill="#f58a6e"/>
<rect x="315.65" y="242.65" width="12.67" height="16.89" fill="#4f6a84"/>
<rect x="345.2" y="246.88" width="14.78" height="16.88" fill="#f58a6e"/>
<rect x="349.42" y="261.65" width="14.78" height="16.89" fill="#4f6a84"/>
<rect x="355.76" y="240.54" width="12.24" height="19" fill="#4f6a84"/>
<rect x="280.82" y="251.1" width="26.39" height="16.88" fill="#4f6a84"/>
<rect x="280.82" y="267.98" width="15.83" height="16.89" fill="#4f6a84"/>
<rect x="260.77" y="273.26" width="27.44" height="20.05" fill="#f58a6e"/>
<rect x="51.66" y="100" width="42.75" height="82.32" fill="#ffffff" clip-path="url(#landclip)"/>
<rect x="81.74" y="134.83" width="7.92" height="31.66" fill="#ffffff"/>
<rect x="31.87" y="140.37" width="11.88" height="16.62" fill="#4f6a84"/>
<rect x="43.75" y="142.74" width="7.91" height="17.42" fill="#7aa3cc"/>
<rect x="64" y="109.5" width="8" height="7.9" fill="#cfebfb"/>
<rect x="64" y="109.5" width="8" height="7.9" fill="#dadadc" clip-path="url(#landclip)"/>
<rect x="78.6" y="120.6" width="3.1" height="7.9" fill="#cfebfb"/>
<rect x="78.6" y="120.6" width="3.1" height="7.9" fill="#dadadc" clip-path="url(#landclip)"/>
<rect x="86.5" y="163" width="6.3" height="11.4" fill="#cfebfb"/>
<rect x="86.5" y="163" width="6.3" height="11.4" fill="#dadadc" clip-path="url(#landclip)"/>
</g>
<use href="#grat"/>
<use href="#lines"/>
<use href="#glabels"/>
<use href="#scalebar"/>
</g>
<rect x="0.5" y="0.5" width="367" height="313" fill="none" stroke="#2b2b2b" stroke-width="1.3"/>
<text x="10" y="22.6" font-family="Liberation Sans, sans-serif" font-weight="bold" font-size="10.2" fill="#1a1a1a" stroke="#1a1a1a" stroke-width="0.3" textLength="88.3" lengthAdjust="spacingAndGlyphs">2020–2052 RCP4.5</text>
</g>
<g transform="translate(390,0)">
<g clip-path="url(#clip)">
<rect x="0" y="0" width="368" height="314" fill="#cfebfb"/>
<use href="#base"/>
<g clip-path="url(#cov)">
<rect x="0" y="0" width="368" height="314" fill="#7aa3cc" clip-path="url(#cov0)"/>
<rect x="174.93" y="22.16" width="20.06" height="16.89" fill="#ffffff"/>
<rect x="192.88" y="16.89" width="18.99" height="14.77" fill="#ffffff"/>
<rect x="184.43" y="37.99" width="8.45" height="14.78" fill="#ffffff"/>
<rect x="243.54" y="12.66" width="14.77" height="16.89" fill="#ffffff"/>
<rect x="121.11" y="75.99" width="6.33" height="14.78" fill="#4f6a84"/>
<rect x="162.27" y="59.1" width="5.28" height="14.78" fill="#4f6a84"/>
<rect x="167.55" y="58.05" width="8.44" height="14.77" fill="#f58a6e"/>
<rect x="180.21" y="55.94" width="8.44" height="15.83" fill="#4f6a84"/>
<rect x="179.16" y="69.66" width="26.38" height="29.55" fill="#4f6a84"/>
<rect x="181.27" y="86.54" width="7.38" height="15.83" fill="#f58a6e"/>
<rect x="158.05" y="90.77" width="7.39" height="30.6" fill="#4f6a84"/>
<rect x="119" y="106.6" width="32.72" height="15.83" fill="#4f6a84"/>
<rect x="143.27" y="122.43" width="17.94" height="14.77" fill="#4f6a84"/>
<rect x="219.26" y="26.39" width="9.5" height="15.83" fill="#4f6a84"/>
<rect x="225.59" y="24.27" width="9.5" height="15.84" fill="#f58a6e"/>
<rect x="243.54" y="31.66" width="12.66" height="16.89" fill="#4f6a84"/>
<rect x="127.44" y="123.48" width="7.39" height="14.78" fill="#f58a6e"/>
<rect x="134.83" y="138.26" width="10.55" height="15.83" fill="#f58a6e"/>
<rect x="217.15" y="142.48" width="11.61" height="15.83" fill="#4f6a84"/>
<rect x="245.65" y="135.09" width="10.55" height="24.91" fill="#4f6a84"/>
<rect x="184.43" y="149.87" width="6.34" height="10.13" fill="#4f6a84"/>
<rect x="213.98" y="46.44" width="8.45" height="16.88" fill="#4f6a84"/>
<rect x="205.54" y="56.99" width="38" height="21.11" fill="#4f6a84"/>
<rect x="218.55" y="26.39" width="7.39" height="13.72" fill="#4f6a84"/>
<rect x="224.89" y="24.27" width="9.5" height="15.84" fill="#f58a6e"/>
<rect x="239.66" y="16.89" width="19" height="12.66" fill="#ffffff"/>
<polygon points="242.83,34.83 249.16,31.66 255.49,44.33 249.16,47.49" fill="#4f6a84"/>
<polygon points="213.54,46.33 223.04,45.54 224.62,55.83 236.5,55.04 242.04,72.45 224.62,77.2 217.5,78.79 208,80.37 208,63.75 214.33,62.16" fill="#4f6a84"/>
<polygon points="245.99,40 253.91,40 255.49,46.33 248.37,48.71" fill="#4f6a84"/>
<polygon points="244.41,51.08 252.33,49.5 255.49,62.16 271.32,56.62 277.66,69.29 268.16,74.04 255.49,77.2 242.83,85.91 238.87,72.45 247.58,63.75" fill="#4f6a84"/>
<polygon points="268.16,74.04 293.49,62.96 301.4,74.04 280.82,85.91 285.57,100.16 271.32,106.49 266.58,96.99 263.41,93.83 271.32,90.66" fill="#4f6a84"/>
<polygon points="302.99,71.66 309.32,70.08 318.82,92.24 328,87.49 328,114.41 309.32,122.32 302.99,106.49 310.9,103.32 306.15,87.49" fill="#4f6a84"/>
<polygon points="296.65,127.07 309.32,122.32 318.82,134.99 306.15,140.05 296.65,140.05" fill="#4f6a84"/>
<polygon points="222.25,92.24 238.08,89.08 241.25,103.32 225.41,108.87" fill="#4f6a84"/>
<polygon points="249.16,101.74 261.83,96.99 271.32,108.07 282.41,130.24 283.99,140.05 260.24,140.05 255.49,119.16" fill="#4f6a84"/>
<polygon points="304.57,50.29 310.9,48.71 318.82,60.58 312.49,65.33" fill="#4f6a84"/>
<polygon points="318.82,55.83 328,55.04 328,70.08" fill="#4f6a84"/>
<polygon points="223.83,77.2 236.5,72.45 242.04,85.91 257.08,81.16 264.99,77.99 271.32,90.66 263.41,93.83 250.74,100.16 254.7,115.99 247.58,118.36 242.04,103.32 236.5,89.08 227,90.66" fill="#f58a6e"/>
<rect x="243.88" y="135.09" width="33.78" height="24.91" fill="#4f6a84"/>
<rect x="216.44" y="141.42" width="12.67" height="16.89" fill="#4f6a84"/>
<rect x="309.32" y="124.54" width="16.89" height="16.88" fill="#4f6a84"/>
<polygon points="275.55,135.09 298.77,135.09 298.77,141.42 326.21,141.42 326.21,118.21 368,113.98 368,160 275.55,160" fill="#f58a6e"/>
<rect x="343.09" y="137.2" width="12.67" height="19" fill="#ec1c24"/>
<rect x="239.66" y="154" width="128.34" height="69.66" fill="#f58a6e"/>
<rect x="208" y="154" width="12.66" height="8.44" fill="#7aa3cc"/>
<rect x="220.66" y="154" width="8.45" height="5.28" fill="#4f6a84"/>
<rect x="229.11" y="154" width="21.11" height="12.66" fill="#7aa3cc"/>
<rect x="250.22" y="154" width="27.44" height="12.66" fill="#4f6a84"/>
<rect x="279.77" y="154" width="16.88" height="16.89" fill="#7aa3cc"/>
<rect x="292.43" y="154" width="12.67" height="12.66" fill="#4f6a84"/>
<rect x="208" y="162.44" width="12.66" height="19" fill="#4f6a84"/>
<rect x="222.78" y="162.44" width="16.88" height="27.44" fill="#7aa3cc"/>
<rect x="235.44" y="170.89" width="12.67" height="16.88" fill="#4f6a84"/>
<rect x="254.44" y="166.66" width="12.66" height="14.78" fill="#7aa3cc"/>
<rect x="264.99" y="166.66" width="16.89" height="27.45" fill="#4f6a84"/>
<rect x="216.44" y="185.66" width="23.22" height="21.11" fill="#4f6a84"/>
<rect x="208" y="181.44" width="8.44" height="27.44" fill="#f58a6e"/>
<rect x="220.66" y="204.66" width="23.22" height="16.89" fill="#f58a6e"/>
<rect x="273.44" y="189.88" width="12.66" height="14.78" fill="#ec1c24"/>
<rect x="210.11" y="206.77" width="10.55" height="35.88" fill="#ec1c24"/>
<rect x="220.66" y="219.44" width="27.45" height="14.77" fill="#ec1c24"/>
<rect x="243.88" y="200.44" width="11.61" height="16.88" fill="#ec1c24"/>
<rect x="216.44" y="238.43" width="12.67" height="14.78" fill="#a06a48"/>
<rect x="208" y="242.65" width="10.55" height="29.56" fill="#ec1c24"/>
<rect x="229.11" y="240.54" width="10.55" height="12.67" fill="#ec1c24"/>
<rect x="210.11" y="272.21" width="12.67" height="16.88" fill="#a06a48"/>
<rect x="313.54" y="173" width="12.67" height="17.94" fill="#4f6a84"/>
<rect x="323.04" y="168.78" width="13.72" height="14.77" fill="#7aa3cc"/>
<rect x="332.54" y="164.55" width="12.66" height="16.89" fill="#ec1c24"/>
<rect x="330.43" y="181.44" width="25.33" height="35.88" fill="#4f6a84"/>
<rect x="296.65" y="183.55" width="10.56" height="16.89" fill="#4f6a84"/>
<rect x="256.55" y="234.21" width="56.99" height="29.55" fill="#f58a6e"/>
<rect x="311.43" y="219.44" width="35.88" height="23.21" fill="#ec1c24"/>
<rect x="292.43" y="232.1" width="61.22" height="33.77" fill="#a06a48"/>
<rect x="353.65" y="234.21" width="14.35" height="38" fill="#ec1c24"/>
<rect x="245.99" y="263.76" width="12.67" height="16.89" fill="#ec1c24"/>
<rect x="258.66" y="259.54" width="23.22" height="19" fill="#a06a48"/>
<rect x="260.77" y="274.32" width="27.44" height="18.99" fill="#9a2a30"/>
<rect x="281.88" y="255.32" width="14.77" height="16.89" fill="#ec1c24"/>
<rect x="283.99" y="270.09" width="16.89" height="14.78" fill="#a06a48"/>
<rect x="296.65" y="259.54" width="54.89" height="21.11" fill="#ec1c24"/>
<rect x="313.54" y="263.76" width="54.46" height="29.55" fill="#f58a6e"/>
<rect x="345.2" y="248.99" width="14.78" height="14.77" fill="#a06a48"/>
<rect x="102.11" y="215.21" width="157.89" height="16.89" fill="#f58a6e"/>
<rect x="184.43" y="154" width="10.56" height="27.44" fill="#4f6a84"/>
<rect x="135.88" y="185.66" width="20.06" height="14.78" fill="#4f6a84"/>
<rect x="114.78" y="200.44" width="10.55" height="15.83" fill="#4f6a84"/>
<rect x="175.99" y="182.5" width="10.55" height="15.83" fill="#4f6a84"/>
<rect x="203.43" y="160.33" width="19" height="21.11" fill="#4f6a84"/>
<rect x="218.21" y="181.44" width="12.66" height="14.78" fill="#4f6a84"/>
<rect x="235.09" y="170.89" width="12.67" height="16.88" fill="#4f6a84"/>
<rect x="247.76" y="154" width="12.24" height="12.66" fill="#4f6a84"/>
<rect x="146.44" y="200.44" width="21.11" height="31.66" fill="#f58a6e"/>
<rect x="167.55" y="199.38" width="10.55" height="15.83" fill="#4f6a84"/>
<rect x="178.1" y="198.33" width="21.11" height="33.77" fill="#f58a6e"/>
<rect x="199.21" y="195.16" width="10.55" height="13.72" fill="#4f6a84"/>
<rect x="205.54" y="177.22" width="12.67" height="31.66" fill="#f58a6e"/>
<rect x="218.21" y="204.66" width="21.1" height="19" fill="#f58a6e"/>
<rect x="239.31" y="166.66" width="20.69" height="33.78" fill="#f58a6e"/>
<rect x="188.65" y="208.88" width="16.89" height="33.77" fill="#f58a6e"/>
<rect x="135.88" y="232.1" width="33.78" height="14.78" fill="#ec1c24"/>
<rect x="169.66" y="229.99" width="21.11" height="14.78" fill="#ec1c24"/>
<rect x="209.76" y="208.88" width="14.78" height="16.89" fill="#ec1c24"/>
<rect x="203.43" y="223.66" width="46.44" height="14.77" fill="#ec1c24"/>
<rect x="203.43" y="238.43" width="14.78" height="35.89" fill="#ec1c24"/>
<rect x="222.43" y="234.21" width="18.99" height="19" fill="#ec1c24"/>
<rect x="241.42" y="200.44" width="14.78" height="16.88" fill="#ec1c24"/>
<rect x="245.65" y="263.76" width="14.35" height="16.89" fill="#ec1c24"/>
<rect x="102.11" y="232.1" width="21.11" height="14.78" fill="#a06a48"/>
<rect x="147.49" y="246.88" width="22.17" height="15.83" fill="#a06a48"/>
<rect x="182.32" y="244.77" width="12.67" height="16.88" fill="#a06a48"/>
<rect x="197.1" y="246.88" width="10.55" height="27.44" fill="#a06a48"/>
<rect x="216.09" y="238.43" width="12.67" height="14.78" fill="#a06a48"/>
<rect x="209.76" y="272.21" width="12.67" height="16.88" fill="#a06a48"/>
<rect x="100" y="232.1" width="2.11" height="14.78" fill="#ec1c24"/>
<rect x="100" y="293.31" width="35.88" height="16.89" fill="#f58a6e"/>
<rect x="65.48" y="133.44" width="23.69" height="32.04" fill="#4f6a84"/>
<rect x="57.12" y="147.37" width="12.54" height="30.65" fill="#f58a6e"/>
<rect x="83.59" y="151.55" width="5.58" height="13.93" fill="#4f6a84"/>
<rect x="32.04" y="140.4" width="11.15" height="15.33" fill="#ec1c24"/>
<rect x="41.8" y="141.8" width="11.14" height="16.72" fill="#f58a6e"/>
<rect x="91.95" y="215.64" width="11.15" height="15.32" fill="#4f6a84"/>
<rect x="114.24" y="200.31" width="11.15" height="16.72" fill="#4f6a84"/>
<rect x="103.1" y="217.03" width="27.86" height="13.93" fill="#f58a6e"/>
<rect x="78.02" y="228.18" width="13.93" height="16.72" fill="#f58a6e"/>
<rect x="89.17" y="228.18" width="13.93" height="18.11" fill="#ec1c24"/>
<rect x="101.71" y="232.36" width="22.29" height="15.32" fill="#a06a48"/>
<rect x="136.54" y="232.36" width="23.4" height="15.32" fill="#ec1c24"/>
<rect x="147.68" y="247.68" width="12.26" height="15.33" fill="#a06a48"/>
<rect x="130.96" y="200.31" width="28.98" height="32.05" fill="#f58a6e"/>
<rect x="135.14" y="184.99" width="20.9" height="15.32" fill="#4f6a84"/>
<rect x="66.88" y="228.18" width="12.53" height="16.72" fill="#4f6a84"/>
<rect x="41.8" y="239.32" width="13.93" height="16.72" fill="#4f6a84"/>
<rect x="52.94" y="242.11" width="19.51" height="33.44" fill="#f58a6e"/>
<rect x="65.48" y="244.9" width="12.54" height="15.32" fill="#ec1c24"/>
<rect x="76.63" y="244.9" width="12.54" height="15.32" fill="#a06a48"/>
<rect x="11.15" y="264.4" width="16.71" height="19.51" fill="#f58a6e"/>
<rect x="27.86" y="253.26" width="13.94" height="33.43" fill="#f58a6e"/>
<rect x="36.22" y="256.04" width="25.08" height="33.44" fill="#ec1c24"/>
<rect x="61.3" y="261.61" width="13.93" height="13.94" fill="#f58a6e"/>
<rect x="22.29" y="283.91" width="11.15" height="30.09" fill="#4f6a84"/>
<rect x="33.44" y="300.62" width="36.22" height="13.38" fill="#f58a6e"/>
<rect x="97.53" y="293.66" width="39.01" height="20.34" fill="#f58a6e"/>
<rect x="119.82" y="100" width="25.08" height="22.29" fill="#4f6a84"/>
<rect x="144.9" y="119.51" width="15.04" height="16.71" fill="#4f6a84"/>
<rect x="126.78" y="122.29" width="9.76" height="16.72" fill="#f58a6e"/>
<rect x="133.75" y="139.01" width="11.15" height="13.93" fill="#f58a6e"/>
<rect x="48" y="104" width="15.5" height="33" fill="#cfebfb"/>
<rect x="48" y="104" width="15.5" height="33" fill="#dadadc" clip-path="url(#landclip)"/>
<rect x="64" y="104" width="18" height="13" fill="#cfebfb"/>
<rect x="64" y="104" width="18" height="13" fill="#dadadc" clip-path="url(#landclip)"/>
<rect x="78.7" y="117" width="17.3" height="17" fill="#cfebfb"/>
<rect x="78.7" y="117" width="17.3" height="17" fill="#dadadc" clip-path="url(#landclip)"/>
<polygon points="327.22,82.53 344.21,77.68 358.78,101.95 368,99.53 368,126.23 353.92,131.08 339.36,116.52 327.22,114.09" fill="#4f6a84"/>
<polygon points="276.24,104.38 300.52,97.1 305.37,114.09 281.1,121.37" fill="#4f6a84"/>
<polygon points="255.61,248.67 311.44,234.11 315.08,242.6 293.23,251.1 281.1,255.95 256.82,263.23" fill="#f58a6e"/>
<polygon points="310.23,231.68 341.78,219.54 353.92,234.11 319.94,243.82" fill="#ec1c24"/>
<rect x="351.49" y="226.82" width="16.51" height="41.27" fill="#ec1c24"/>
<polygon points="293.23,251.1 315.08,242.6 351.49,231.68 358.78,255.95 353.92,260.81 319.94,268.09 298.09,270.52 295.66,255.95" fill="#a06a48"/>
<polygon points="295.66,270.52 319.94,265.66 353.92,258.38 358.78,263.23 351.49,272.94 319.94,276.59 300.52,280.23" fill="#ec1c24"/>
<rect x="281.1" y="253.53" width="14.56" height="16.99" fill="#ec1c24"/>
<polygon points="256.82,263.23 281.1,255.95 285.95,275.37 261.68,280.23" fill="#a06a48"/>
<rect x="245.9" y="263.23" width="13.35" height="17" fill="#ec1c24"/>
<polygon points="261.68,280.23 283.53,272.94 288.38,289.94 264.11,294.79" fill="#9a2a30"/>
<rect x="283.53" y="268.09" width="16.99" height="16.99" fill="#a06a48"/>
<polygon points="300.52,280.23 351.49,272.94 368,268.09 368,294.79 315.08,294.79" fill="#f58a6e"/>
<rect x="237" y="263.5" width="9" height="22.5" fill="#cfebfb"/>
<rect x="237" y="263.5" width="9" height="22.5" fill="#dadadc" clip-path="url(#landclip)"/>
</g>
<use href="#grat"/>
<use href="#lines"/>
<use href="#glabels"/>
<use href="#scalebar"/>
</g>
<rect x="0.5" y="0.5" width="367" height="313" fill="none" stroke="#2b2b2b" stroke-width="1.3"/>
<text x="10" y="22.6" font-family="Liberation Sans, sans-serif" font-weight="bold" font-size="10.2" fill="#1a1a1a" stroke="#1a1a1a" stroke-width="0.3" textLength="88.3" lengthAdjust="spacingAndGlyphs">2068–2100 RCP4.5</text>
</g>
<g transform="translate(0,337)">
<g clip-path="url(#clip)">
<rect x="0" y="0" width="368" height="314" fill="#cfebfb"/>
<use href="#base"/>
<g clip-path="url(#cov)">
<rect x="0" y="0" width="368" height="314" fill="#7aa3cc" clip-path="url(#cov0)"/>
<rect x="155.94" y="9.5" width="7.38" height="11.61" fill="#ffffff"/>
<rect x="163.32" y="8.44" width="35.89" height="19" fill="#ffffff"/>
<rect x="165.44" y="27.44" width="6.33" height="14.78" fill="#ffffff"/>
<rect x="175.99" y="27.44" width="23.22" height="10.55" fill="#ffffff"/>
<rect x="184.43" y="36.94" width="8.45" height="15.83" fill="#ffffff"/>
<rect x="192.88" y="14.78" width="37.99" height="33.77" fill="#ffffff"/>
<rect x="207.65" y="58.05" width="27.44" height="23.22" fill="#ffffff"/>
<rect x="205.54" y="65.44" width="8.44" height="15.83" fill="#ffffff"/>
<rect x="217.15" y="79.16" width="9.5" height="13.72" fill="#ffffff"/>
<rect x="148.55" y="59.1" width="7.39" height="15.83" fill="#ffffff"/>
<rect x="142.22" y="74.93" width="7.38" height="15.84" fill="#ffffff"/>
<rect x="134.83" y="90.77" width="8.44" height="14.77" fill="#ffffff"/>
<rect x="149.6" y="90.77" width="8.45" height="14.77" fill="#ffffff"/>
<rect x="127.44" y="137.2" width="7.39" height="10.56" fill="#ffffff"/>
<rect x="116.89" y="154.09" width="10.55" height="5.91" fill="#ffffff"/>
<rect x="172.82" y="151.98" width="9.5" height="8.02" fill="#ffffff"/>
<rect x="245.65" y="134.04" width="10.55" height="16.88" fill="#ffffff"/>
<rect x="199.21" y="99.21" width="9.5" height="15.83" fill="#4f6a84"/>
<rect x="185.49" y="116.09" width="17.94" height="15.84" fill="#4f6a84"/>
<rect x="208" y="8.44" width="27.44" height="40.11" fill="#ffffff"/>
<rect x="258.66" y="0" width="6.33" height="4.22" fill="#ffffff"/>
<rect x="208" y="58.05" width="28.5" height="22.16" fill="#ffffff"/>
<polygon points="278.71,69.66 286.1,65.86 293.49,79.79 286.52,83.38" fill="#4f6a84"/>
<polygon points="307.63,69.66 314.6,65.86 323.04,80.21 316.71,84.01" fill="#ffffff"/>
<rect x="243.88" y="134.04" width="13.72" height="16.88" fill="#ffffff"/>
<polygon points="257.6,147.76 283.99,138.26 288.21,160 260.77,160" fill="#4f6a84"/>
<rect x="288.21" y="148.81" width="16.89" height="11.19" fill="#4f6a84"/>
<polygon points="326.21,135.09 343.09,124.54 347.31,139.31 355.76,132.98 366.31,143.54 368,160 326.21,160" fill="#4f6a84"/>
<rect x="343.09" y="138.26" width="14.78" height="17.94" fill="#f58a6e"/>
<rect x="258.66" y="154" width="33.77" height="10.55" fill="#4f6a84"/>
<rect x="292.43" y="154" width="21.11" height="12.66" fill="#4f6a84"/>
<polygon points="309.32,162.44 343.09,154 351.54,177.22 326.21,185.66 313.54,179.33" fill="#4f6a84"/>
<polygon points="216.44,177.22 252.33,167.72 256.55,191.99 218.55,191.99" fill="#4f6a84"/>
<rect x="273.44" y="164.55" width="25.33" height="25.33" fill="#4f6a84"/>
<polygon points="254.44,165.61 273.44,162.44 281.88,200.44 262.88,202.55" fill="#f58a6e"/>
<rect x="309.32" y="191.99" width="16.89" height="14.78" fill="#4f6a84"/>
<rect x="321.98" y="202.55" width="16.89" height="14.77" fill="#4f6a84"/>
<rect x="326.21" y="204.66" width="29.55" height="37.99" fill="#4f6a84"/>
<polygon points="208,191.99 250.22,185.66 250.22,234.21 208,234.21" fill="#f58a6e"/>
<rect x="221.72" y="205.72" width="12.67" height="16.88" fill="#4f6a84"/>
<rect x="242.83" y="200.44" width="13.72" height="16.88" fill="#ec1c24"/>
<rect x="208" y="234.21" width="12.66" height="54.88" fill="#f58a6e"/>
<rect x="216.44" y="238.43" width="13.72" height="15.83" fill="#ec1c24"/>
<rect x="264.99" y="196.22" width="16.89" height="14.77" fill="#f58a6e"/>
<rect x="245.99" y="242.65" width="122.01" height="42.22" fill="#f58a6e"/>
<rect x="288.21" y="227.88" width="38" height="25.33" fill="#7aa3cc"/>
<rect x="264.99" y="238.43" width="25.33" height="21.11" fill="#4f6a84"/>
<rect x="321.98" y="217.32" width="33.78" height="25.33" fill="#f58a6e"/>
<rect x="326.21" y="236.32" width="16.88" height="17.94" fill="#ec1c24"/>
<rect x="260.77" y="272.21" width="27.44" height="22.16" fill="#ec1c24"/>
<rect x="296.65" y="259.54" width="25.33" height="23.22" fill="#4f6a84"/>
<rect x="326.21" y="272.21" width="12.66" height="16.88" fill="#4f6a84"/>
<rect x="311.43" y="276.43" width="19" height="16.88" fill="#7aa3cc"/>
<rect x="355.76" y="242.65" width="12.24" height="29.56" fill="#4f6a84"/>
<polygon points="112.66,166.66 146.44,166.66 146.44,154 116.89,154 116.89,166.66 112.66,166.66 112.66,200.44 156.99,200.44 163.32,183.55 163.32,166.66 146.44,166.66" fill="#ffffff"/>
<rect x="106.33" y="185.66" width="8.45" height="29.55" fill="#7aa3cc"/>
<rect x="100" y="189.88" width="4.22" height="25.33" fill="#ffffff"/>
<rect x="125.33" y="200.44" width="8.44" height="15.83" fill="#ffffff"/>
<rect x="172.82" y="154" width="9.5" height="13.72" fill="#ffffff"/>
<polygon points="215.04,175.11 256.2,166.66 256.2,196.22 215.04,196.22" fill="#4f6a84"/>
<rect x="207.65" y="185.66" width="48.55" height="61.22" fill="#f58a6e"/>
<rect x="222.43" y="206.77" width="12.66" height="15.83" fill="#4f6a84"/>
<rect x="243.54" y="201.49" width="12.66" height="15.83" fill="#ec1c24"/>
<rect x="189.71" y="210.99" width="22.16" height="16.89" fill="#4f6a84"/>
<rect x="190.77" y="227.88" width="12.66" height="16.89" fill="#4f6a84"/>
<rect x="181.27" y="229.99" width="9.5" height="14.78" fill="#4f6a84"/>
<rect x="147.49" y="217.32" width="9.5" height="14.78" fill="#4f6a84"/>
<rect x="100" y="231.04" width="48.55" height="15.84" fill="#f58a6e"/>
<rect x="135.88" y="231.04" width="12.67" height="15.84" fill="#f58a6e"/>
<rect x="169.66" y="229.99" width="12.66" height="16.89" fill="#f58a6e"/>
<rect x="192.88" y="223.66" width="16.88" height="48.55" fill="#f58a6e"/>
<rect x="209.76" y="242.65" width="25.33" height="46.44" fill="#f58a6e"/>
<rect x="245.65" y="253.21" width="14.35" height="27.44" fill="#f58a6e"/>
<rect x="256.2" y="166.66" width="3.8" height="16.89" fill="#f58a6e"/>
<rect x="112.66" y="232.1" width="11.61" height="15.83" fill="#ec1c24"/>
<rect x="159.1" y="232.1" width="12.67" height="29.55" fill="#ec1c24"/>
<rect x="147.49" y="247.93" width="22.17" height="14.78" fill="#ec1c24"/>
<rect x="182.32" y="244.77" width="11.61" height="15.83" fill="#ec1c24"/>
<rect x="196.04" y="258.49" width="11.61" height="15.83" fill="#ec1c24"/>
<rect x="217.15" y="239.49" width="11.61" height="14.77" fill="#ec1c24"/>
<rect x="69.66" y="148.76" width="9.75" height="16.72" fill="#ffffff"/>
<rect x="117.03" y="152.94" width="42.91" height="64.09" fill="#ffffff"/>
<rect x="144.9" y="152.94" width="15.04" height="16.72" fill="#7aa3cc"/>
<rect x="136.54" y="200.31" width="23.4" height="16.72" fill="#7aa3cc"/>
<rect x="86.38" y="186.38" width="19.51" height="27.86" fill="#ffffff"/>
<rect x="66.88" y="197.53" width="13.93" height="47.37" fill="#ffffff"/>
<rect x="79.41" y="229.57" width="11.15" height="15.33" fill="#4f6a84"/>
<rect x="89.17" y="230.96" width="25.07" height="15.33" fill="#f58a6e"/>
<rect x="112.85" y="230.96" width="11.15" height="15.33" fill="#ec1c24"/>
<rect x="136.54" y="230.96" width="23.4" height="16.72" fill="#f58a6e"/>
<rect x="146.29" y="215.64" width="11.14" height="15.32" fill="#4f6a84"/>
<rect x="147.68" y="247.68" width="12.26" height="15.33" fill="#ec1c24"/>
<rect x="76.63" y="244.9" width="12.54" height="16.71" fill="#f58a6e"/>
<rect x="65.48" y="244.9" width="12.54" height="15.32" fill="#4f6a84"/>
<rect x="41.8" y="256.04" width="11.14" height="13.93" fill="#4f6a84"/>
<rect x="36.22" y="267.19" width="25.08" height="22.29" fill="#4f6a84"/>
<rect x="16.72" y="285.3" width="16.72" height="15.32" fill="#ffffff"/>
<rect x="48" y="104" width="17" height="28" fill="#cfebfb"/>
<rect x="48" y="104" width="17" height="28" fill="#dadadc" clip-path="url(#landclip)"/>
<rect x="64" y="104" width="18" height="12" fill="#cfebfb"/>
<rect x="64" y="104" width="18" height="12" fill="#dadadc" clip-path="url(#landclip)"/>
<rect x="215.04" y="183.38" width="35.88" height="10.55" fill="#4f6a84"/>
<rect x="237" y="263.5" width="8" height="22.5" fill="#cfebfb"/>
<rect x="237" y="263.5" width="8" height="22.5" fill="#dadadc" clip-path="url(#landclip)"/>
</g>
<use href="#grat"/>
<use href="#lines"/>
<use href="#glabels"/>
<use href="#scalebar"/>
</g>
<rect x="0.5" y="0.5" width="367" height="313" fill="none" stroke="#2b2b2b" stroke-width="1.3"/>
<text x="10" y="22.6" font-family="Liberation Sans, sans-serif" font-weight="bold" font-size="10.2" fill="#1a1a1a" stroke="#1a1a1a" stroke-width="0.3" textLength="88.3" lengthAdjust="spacingAndGlyphs">2020–2052 RCP8.5</text>
</g>
<g transform="translate(390,337)">
<g clip-path="url(#clip)">
<rect x="0" y="0" width="368" height="314" fill="#cfebfb"/>
<use href="#base"/>
<g clip-path="url(#cov)">
<rect x="0" y="0" width="368" height="314" fill="#ec1c24" clip-path="url(#cov0)"/>
<polygon points="0,197 61.2,197.1 85.5,195 85.5,182.3 125.6,184.4 125.6,201.3 145.6,201.3 145.6,184.4 172,184.4 172,172 184,170 184,165.5 197.3,165.5 197.3,128 235.4,126 237.5,139 265,136 286,133 286.1,116.1 298.8,116.1 298.8,126.6 309.3,126.6 309.3,137 317.8,137 317.8,135.1 334.6,135.1 334.6,126.6 350,118 368,107.7 368,320 0,320" fill="#a06a48"/>
<polygon points="368,134 329.6,134 329.6,155.8 305.4,155.8 305.4,170 290.8,170.4 281.1,172.8 256.8,182.5 232.5,189.8 208.3,193.4 184,195.9 172,205 160,214 92.9,214 92.9,229.8 79,229.8 79,239.3 67,239.3 0,239 0,320 368,320" fill="#9a2a30"/>
<rect x="20" y="235.3" width="45.4" height="23.2" fill="#a06a48"/>
<rect x="18" y="297.5" width="11.6" height="16.5" fill="#a06a48"/>
<rect x="329.6" y="182.5" width="12.2" height="17" fill="#a06a48"/>
<rect x="349" y="192.2" width="19" height="24.3" fill="#a06a48"/>
<rect x="32" y="140.1" width="20" height="16.9" fill="#a06a48"/>
<rect x="63.3" y="116" width="4.2" height="7" fill="#f58a6e"/>
<rect x="73.8" y="134.3" width="8.5" height="17.2" fill="#a06a48"/>
<rect x="77" y="150.7" width="11.7" height="30.6" fill="#a06a48"/>
<rect x="117.2" y="153.8" width="9.4" height="14.8" fill="#f58a6e"/>
<rect x="126.6" y="143.5" width="7.9" height="26.2" fill="#4f6a84"/>
<rect x="161.2" y="10.6" width="6.3" height="9.4" fill="#a06a48"/>
<rect x="160.2" y="27.4" width="4.2" height="14.8" fill="#f58a6e"/>
<rect x="175" y="23.2" width="6.3" height="15.8" fill="#f58a6e"/>
<rect x="193.9" y="51.7" width="10.6" height="15.8" fill="#f58a6e"/>
<rect x="154.9" y="59.1" width="8.4" height="15.8" fill="#f58a6e"/>
<rect x="135.7" y="60.5" width="6.1" height="13.5" fill="#f58a6e"/>
<rect x="121.6" y="76.2" width="8" height="13.4" fill="#f58a6e"/>
<rect x="129.6" y="76.2" width="5.6" height="21.8" fill="#4f6a84"/>
<rect x="147.5" y="44.3" width="5.3" height="14.8" fill="#f58a6e"/>
<rect x="179.2" y="71.8" width="7.3" height="19" fill="#f58a6e"/>
<rect x="169.7" y="57" width="6.3" height="12.7" fill="#9a2a30"/>
<rect x="197.1" y="16.9" width="16.9" height="16.9" fill="#f58a6e"/>
<rect x="222.4" y="23.2" width="12.7" height="19" fill="#a06a48"/>
<rect x="127.2" y="105.4" width="15.8" height="31.5" fill="#a06a48"/>
<rect x="161.2" y="105.4" width="7.3" height="17" fill="#a06a48"/>
<rect x="133.3" y="136.9" width="13.3" height="14.6" fill="#a06a48"/>
<rect x="117.5" y="153.9" width="9.7" height="7.1" fill="#f58a6e"/>
<rect x="208" y="14.8" width="8.4" height="16.9" fill="#f58a6e"/>
<rect x="252.3" y="6.3" width="16.9" height="18" fill="#f58a6e"/>
<rect x="267.1" y="0" width="16.9" height="12.7" fill="#f58a6e"/>
<rect x="251.3" y="60.2" width="19" height="13.7" fill="#a06a48"/>
<rect x="287.2" y="97.1" width="13.7" height="17.9" fill="#f58a6e"/>
<rect x="216.4" y="78.1" width="10.6" height="14.8" fill="#cfebfb"/>
<rect x="48" y="104" width="17.3" height="33" fill="#cfebfb"/>
<rect x="48" y="104" width="17.3" height="33" fill="#dadadc" clip-path="url(#landclip)"/>
<rect x="76.2" y="104" width="19.8" height="30" fill="#cfebfb"/>
<rect x="76.2" y="104" width="19.8" height="30" fill="#dadadc" clip-path="url(#landclip)"/>
<rect x="64" y="104" width="13" height="11.5" fill="#cfebfb"/>
<rect x="64" y="104" width="13" height="11.5" fill="#dadadc" clip-path="url(#landclip)"/>
<rect x="40" y="132" width="20" height="9" fill="#cfebfb"/>
<rect x="40" y="132" width="20" height="9" fill="#dadadc" clip-path="url(#landclip)"/>
<rect x="50" y="140" width="10" height="20" fill="#cfebfb"/>
<rect x="50" y="140" width="10" height="20" fill="#dadadc" clip-path="url(#landclip)"/>
<rect x="156.6" y="200" width="10.9" height="14.7" fill="#9a2a30"/>
<rect x="305" y="172" width="12.5" height="23" fill="#a06a48"/>
<rect x="237" y="263.5" width="7.5" height="22.5" fill="#cfebfb"/>
<rect x="237" y="263.5" width="7.5" height="22.5" fill="#dadadc" clip-path="url(#landclip)"/>
</g>
<use href="#grat"/>
<use href="#lines"/>
<use href="#glabels"/>
<use href="#scalebar"/>
</g>
<rect x="0.5" y="0.5" width="367" height="313" fill="none" stroke="#2b2b2b" stroke-width="1.3"/>
<text x="10" y="22.6" font-family="Liberation Sans, sans-serif" font-weight="bold" font-size="10.2" fill="#1a1a1a" stroke="#1a1a1a" stroke-width="0.3" textLength="88.3" lengthAdjust="spacingAndGlyphs">2068–2100 RCP8.5</text>
</g>
<rect x="0.5" y="679.5" width="757" height="87" fill="#fff" stroke="#2b2b2b" stroke-width="1.2"/>
<text x="12" y="697" font-family="Liberation Sans, sans-serif" font-weight="bold" font-size="11.5" fill="#1a1a1a" textLength="115" lengthAdjust="spacingAndGlyphs">Heat wave frequency</text>
<text x="78" y="715" font-family="Liberation Sans, sans-serif" font-size="11.5" fill="#333" textLength="100.5" lengthAdjust="spacingAndGlyphs">Number in 33 years</text>
<rect x="78.50" y="724.5" width="24" height="12.5" fill="#ffffff" stroke="#3a3a3a" stroke-width="0.9"/>
<text x="90.50" y="755.5" text-anchor="middle" font-family="Liberation Sans, sans-serif" font-size="11" fill="#333">0–1</text>
<rect x="120.95" y="724.5" width="24" height="12.5" fill="#7aa3cc" stroke="#3a3a3a" stroke-width="0.9"/>
<text x="132.95" y="755.5" text-anchor="middle" font-family="Liberation Sans, sans-serif" font-size="11" fill="#333">1–2</text>
<rect x="163.40" y="724.5" width="24" height="12.5" fill="#4f6a84" stroke="#3a3a3a" stroke-width="0.9"/>
<text x="175.40" y="755.5" text-anchor="middle" font-family="Liberation Sans, sans-serif" font-size="11" fill="#333">2–3</text>
<rect x="205.85" y="724.5" width="24" height="12.5" fill="#f58a6e" stroke="#3a3a3a" stroke-width="0.9"/>
<text x="217.85" y="755.5" text-anchor="middle" font-family="Liberation Sans, sans-serif" font-size="11" fill="#333">3–6</text>
<rect x="248.30" y="724.5" width="24" height="12.5" fill="#ec1c24" stroke="#3a3a3a" stroke-width="0.9"/>
<text x="260.30" y="755.5" text-anchor="middle" font-family="Liberation Sans, sans-serif" font-size="11" fill="#333">6–12</text>
<rect x="290.75" y="724.5" width="24" height="12.5" fill="#a06a48" stroke="#3a3a3a" stroke-width="0.9"/>
<text x="302.75" y="755.5" text-anchor="middle" font-family="Liberation Sans, sans-serif" font-size="11" fill="#333">12–15</text>
<rect x="333.20" y="724.5" width="24" height="12.5" fill="#9a2a30" stroke="#3a3a3a" stroke-width="0.9"/>
<text x="345.20" y="755.5" text-anchor="middle" font-family="Liberation Sans, sans-serif" font-size="11" fill="#333">15–33</text>
<rect x="464.5" y="724.5" width="24.5" height="12.5" fill="#dadadc" stroke="#3a3a3a" stroke-width="0.9"/>
<text x="476.5" y="755.5" text-anchor="middle" font-family="Liberation Sans, sans-serif" font-size="11" fill="#333">No data</text>
<rect x="584.5" y="724.5" width="24.5" height="12.5" fill="#a2a2a6" stroke="#3a3a3a" stroke-width="0.9"/>
<text x="596.8" y="755.5" text-anchor="middle" font-family="Liberation Sans, sans-serif" font-size="11" fill="#333" textLength="88.3" lengthAdjust="spacingAndGlyphs">Outside coverage</text>
</svg>
</body></html>
